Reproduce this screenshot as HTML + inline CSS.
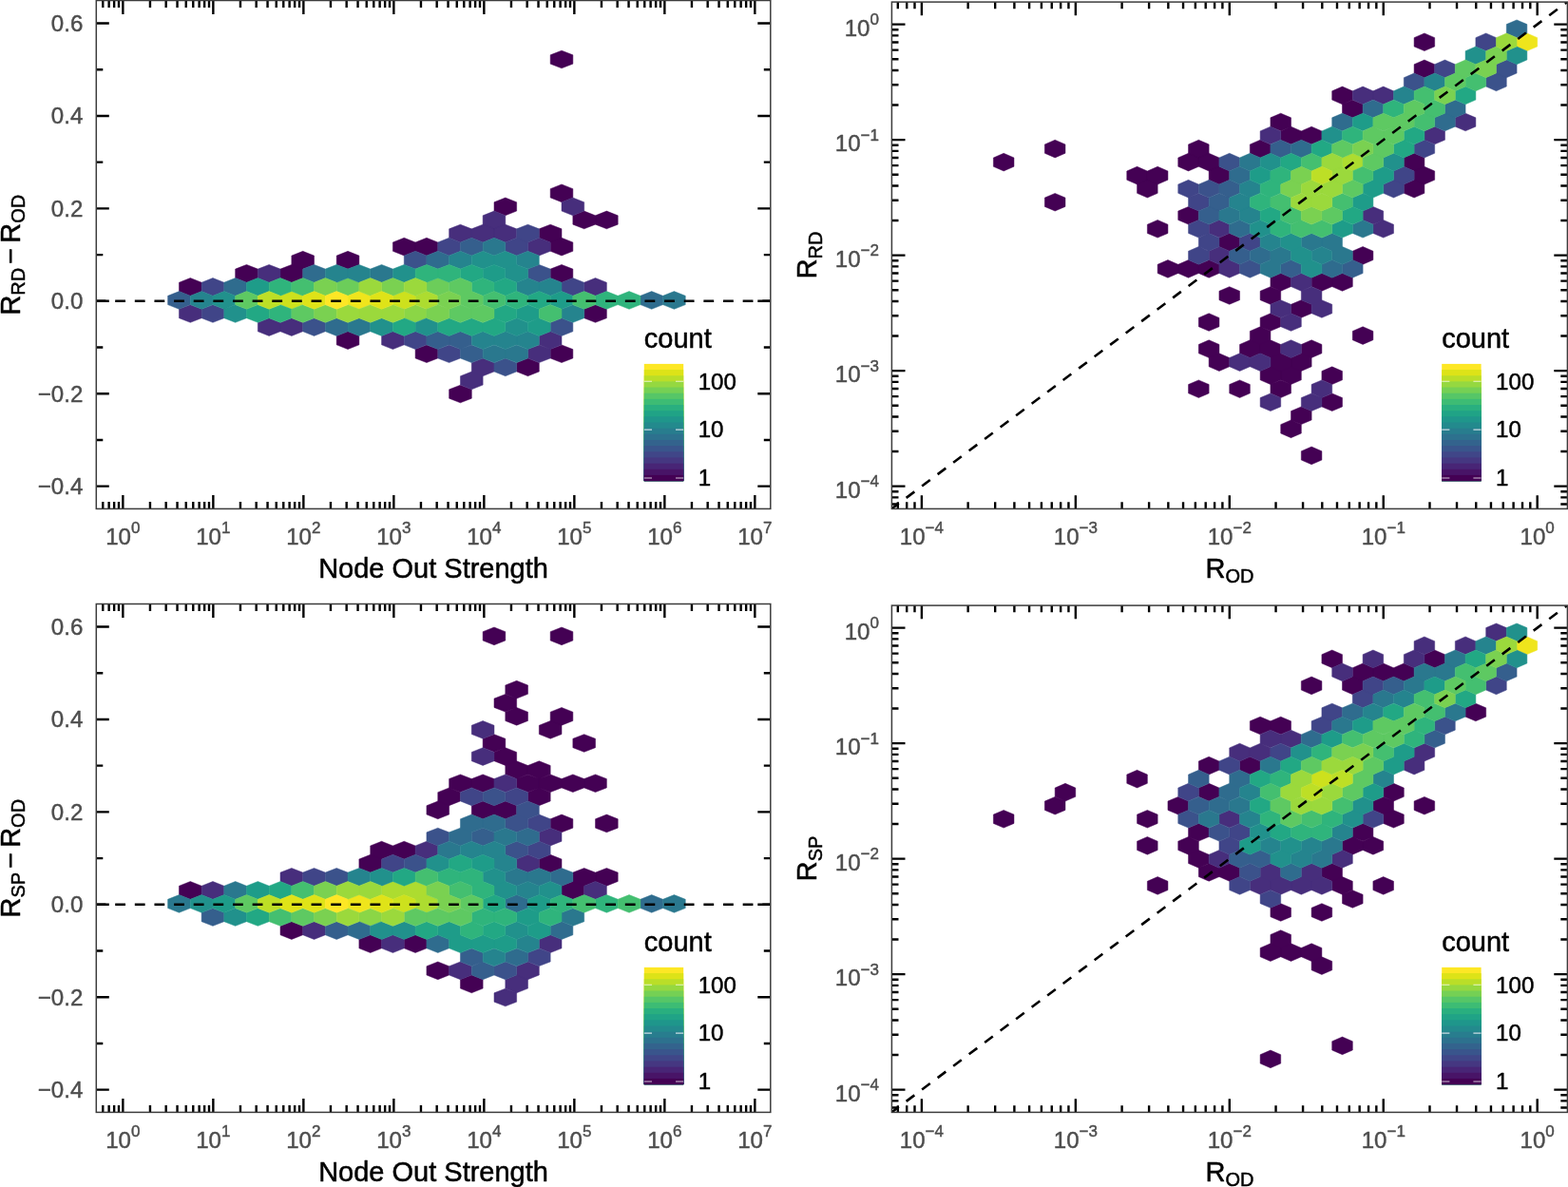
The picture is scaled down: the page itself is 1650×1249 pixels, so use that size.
<!DOCTYPE html>
<html lang="en">
<head>
<meta charset="utf-8">
<title>Hexbin comparison of R estimates</title>
<style>
html,body{margin:0;padding:0;background:#fff;}
body{width:1650px;height:1249px;overflow:hidden;}
svg{display:block;}
</style>
</head>
<body>
<svg width="1650" height="1249" viewBox="0 0 1650 1249" font-family='"Liberation Sans", sans-serif'>
<rect width="1650" height="1249" fill="#fff"/>
<g id="p1">
<clipPath id="cp1"><rect x="101.3" y="0.5" width="709.5" height="534.9"/></clipPath>
<g clip-path="url(#cp1)">
<path d="M366.05 292.52l11.84 4.67v9.35l-11.84 4.67l-11.84 -4.67v-9.35zM460.77 292.52l11.84 4.67v9.35l-11.84 4.67l-11.84 -4.67v-9.35z" fill="#6ccd5a" stroke="#6ccd5a" stroke-width="0.5"/>
<path d="M437.09 320.68l11.84 4.67v9.35l-11.84 4.67l-11.84 -4.67v-9.35z" fill="#8bd646" stroke="#8bd646" stroke-width="0.5"/>
<path d="M448.93 306.6l11.84 4.67v9.35l-11.84 4.67l-11.84 -4.67v-9.35z" fill="#addc30" stroke="#addc30" stroke-width="0.5"/>
<path d="M306.85 306.6l11.84 4.67v9.35l-11.84 4.67l-11.84 -4.67v-9.35zM425.25 306.6l11.84 4.67v9.35l-11.84 4.67l-11.84 -4.67v-9.35z" fill="#cde11d" stroke="#cde11d" stroke-width="0.5"/>
<path d="M377.89 306.6l11.84 4.67v9.35l-11.84 4.67l-11.84 -4.67v-9.35z" fill="#efe51c" stroke="#efe51c" stroke-width="0.5"/>
<path d="M591.01 53.16l11.84 4.67v9.35l-11.84 4.67l-11.84 -4.67v-9.35zM591.01 193.96l11.84 4.67v9.35l-11.84 4.67l-11.84 -4.67v-9.35zM531.81 208.04l11.84 4.67v9.35l-11.84 4.67l-11.84 -4.67v-9.35zM614.69 222.12l11.84 4.67v9.35l-11.84 4.67l-11.84 -4.67v-9.35zM638.37 222.12l11.84 4.67v9.35l-11.84 4.67l-11.84 -4.67v-9.35zM579.17 236.2l11.84 4.67v9.35l-11.84 4.67l-11.84 -4.67v-9.35zM425.25 250.28l11.84 4.67v9.35l-11.84 4.67l-11.84 -4.67v-9.35zM448.93 250.28l11.84 4.67v9.35l-11.84 4.67l-11.84 -4.67v-9.35zM591.01 250.28l11.84 4.67v9.35l-11.84 4.67l-11.84 -4.67v-9.35zM318.69 264.36l11.84 4.67v9.35l-11.84 4.67l-11.84 -4.67v-9.35zM366.05 264.36l11.84 4.67v9.35l-11.84 4.67l-11.84 -4.67v-9.35zM259.49 278.44l11.84 4.67v9.35l-11.84 4.67l-11.84 -4.67v-9.35zM306.85 278.44l11.84 4.67v9.35l-11.84 4.67l-11.84 -4.67v-9.35zM591.01 278.44l11.84 4.67v9.35l-11.84 4.67l-11.84 -4.67v-9.35zM200.29 292.52l11.84 4.67v9.35l-11.84 4.67l-11.84 -4.67v-9.35zM626.53 320.68l11.84 4.67v9.35l-11.84 4.67l-11.84 -4.67v-9.35zM366.05 348.84l11.84 4.67v9.35l-11.84 4.67l-11.84 -4.67v-9.35zM448.93 362.92l11.84 4.67v9.35l-11.84 4.67l-11.84 -4.67v-9.35zM591.01 362.92l11.84 4.67v9.35l-11.84 4.67l-11.84 -4.67v-9.35zM555.49 377l11.84 4.67v9.35l-11.84 4.67l-11.84 -4.67v-9.35zM484.45 405.16l11.84 4.67v9.35l-11.84 4.67l-11.84 -4.67v-9.35z" fill="#440154" stroke="#440154" stroke-width="0.5"/>
<path d="M602.85 208.04l11.84 4.67v9.35l-11.84 4.67l-11.84 -4.67v-9.35zM519.97 222.12l11.84 4.67v9.35l-11.84 4.67l-11.84 -4.67v-9.35zM484.45 236.2l11.84 4.67v9.35l-11.84 4.67l-11.84 -4.67v-9.35zM508.13 236.2l11.84 4.67v9.35l-11.84 4.67l-11.84 -4.67v-9.35zM531.81 236.2l11.84 4.67v9.35l-11.84 4.67l-11.84 -4.67v-9.35zM567.33 250.28l11.84 4.67v9.35l-11.84 4.67l-11.84 -4.67v-9.35zM283.17 278.44l11.84 4.67v9.35l-11.84 4.67l-11.84 -4.67v-9.35zM626.53 292.52l11.84 4.67v9.35l-11.84 4.67l-11.84 -4.67v-9.35zM200.29 320.68l11.84 4.67v9.35l-11.84 4.67l-11.84 -4.67v-9.35zM283.17 334.76l11.84 4.67v9.35l-11.84 4.67l-11.84 -4.67v-9.35zM306.85 334.76l11.84 4.67v9.35l-11.84 4.67l-11.84 -4.67v-9.35zM413.41 348.84l11.84 4.67v9.35l-11.84 4.67l-11.84 -4.67v-9.35zM579.17 348.84l11.84 4.67v9.35l-11.84 4.67l-11.84 -4.67v-9.35zM567.33 362.92l11.84 4.67v9.35l-11.84 4.67l-11.84 -4.67v-9.35zM508.13 377l11.84 4.67v9.35l-11.84 4.67l-11.84 -4.67v-9.35zM496.29 391.08l11.84 4.67v9.35l-11.84 4.67l-11.84 -4.67v-9.35z" fill="#472e7c" stroke="#472e7c" stroke-width="0.5"/>
<path d="M555.49 236.2l11.84 4.67v9.35l-11.84 4.67l-11.84 -4.67v-9.35zM472.61 250.28l11.84 4.67v9.35l-11.84 4.67l-11.84 -4.67v-9.35zM543.65 250.28l11.84 4.67v9.35l-11.84 4.67l-11.84 -4.67v-9.35zM223.97 292.52l11.84 4.67v9.35l-11.84 4.67l-11.84 -4.67v-9.35zM602.85 292.52l11.84 4.67v9.35l-11.84 4.67l-11.84 -4.67v-9.35zM223.97 320.68l11.84 4.67v9.35l-11.84 4.67l-11.84 -4.67v-9.35zM437.09 348.84l11.84 4.67v9.35l-11.84 4.67l-11.84 -4.67v-9.35zM472.61 362.92l11.84 4.67v9.35l-11.84 4.67l-11.84 -4.67v-9.35z" fill="#404588" stroke="#404588" stroke-width="0.5"/>
<path d="M437.09 264.36l11.84 4.67v9.35l-11.84 4.67l-11.84 -4.67v-9.35zM567.33 278.44l11.84 4.67v9.35l-11.84 4.67l-11.84 -4.67v-9.35zM330.53 334.76l11.84 4.67v9.35l-11.84 4.67l-11.84 -4.67v-9.35zM591.01 334.76l11.84 4.67v9.35l-11.84 4.67l-11.84 -4.67v-9.35zM531.81 377l11.84 4.67v9.35l-11.84 4.67l-11.84 -4.67v-9.35z" fill="#3b528b" stroke="#3b528b" stroke-width="0.5"/>
<path d="M496.29 250.28l11.84 4.67v9.35l-11.84 4.67l-11.84 -4.67v-9.35zM188.45 306.6l11.84 4.67v9.35l-11.84 4.67l-11.84 -4.67v-9.35zM460.77 348.84l11.84 4.67v9.35l-11.84 4.67l-11.84 -4.67v-9.35zM484.45 348.84l11.84 4.67v9.35l-11.84 4.67l-11.84 -4.67v-9.35zM496.29 362.92l11.84 4.67v9.35l-11.84 4.67l-11.84 -4.67v-9.35z" fill="#355f8d" stroke="#355f8d" stroke-width="0.5"/>
<path d="M460.77 264.36l11.84 4.67v9.35l-11.84 4.67l-11.84 -4.67v-9.35zM330.53 278.44l11.84 4.67v9.35l-11.84 4.67l-11.84 -4.67v-9.35zM247.65 292.52l11.84 4.67v9.35l-11.84 4.67l-11.84 -4.67v-9.35zM685.73 306.6l11.84 4.67v9.35l-11.84 4.67l-11.84 -4.67v-9.35zM354.21 334.76l11.84 4.67v9.35l-11.84 4.67l-11.84 -4.67v-9.35z" fill="#2f6c8e" stroke="#2f6c8e" stroke-width="0.5"/>
<path d="M519.97 250.28l11.84 4.67v9.35l-11.84 4.67l-11.84 -4.67v-9.35zM401.57 278.44l11.84 4.67v9.35l-11.84 4.67l-11.84 -4.67v-9.35zM709.41 306.6l11.84 4.67v9.35l-11.84 4.67l-11.84 -4.67v-9.35zM377.89 334.76l11.84 4.67v9.35l-11.84 4.67l-11.84 -4.67v-9.35zM519.97 362.92l11.84 4.67v9.35l-11.84 4.67l-11.84 -4.67v-9.35zM543.65 362.92l11.84 4.67v9.35l-11.84 4.67l-11.84 -4.67v-9.35z" fill="#2a788e" stroke="#2a788e" stroke-width="0.5"/>
<path d="M484.45 264.36l11.84 4.67v9.35l-11.84 4.67l-11.84 -4.67v-9.35zM555.49 264.36l11.84 4.67v9.35l-11.84 4.67l-11.84 -4.67v-9.35zM354.21 278.44l11.84 4.67v9.35l-11.84 4.67l-11.84 -4.67v-9.35zM377.89 278.44l11.84 4.67v9.35l-11.84 4.67l-11.84 -4.67v-9.35zM555.49 292.52l11.84 4.67v9.35l-11.84 4.67l-11.84 -4.67v-9.35zM579.17 292.52l11.84 4.67v9.35l-11.84 4.67l-11.84 -4.67v-9.35zM212.13 306.6l11.84 4.67v9.35l-11.84 4.67l-11.84 -4.67v-9.35zM602.85 320.68l11.84 4.67v9.35l-11.84 4.67l-11.84 -4.67v-9.35zM508.13 348.84l11.84 4.67v9.35l-11.84 4.67l-11.84 -4.67v-9.35zM531.81 348.84l11.84 4.67v9.35l-11.84 4.67l-11.84 -4.67v-9.35zM555.49 348.84l11.84 4.67v9.35l-11.84 4.67l-11.84 -4.67v-9.35z" fill="#25848e" stroke="#25848e" stroke-width="0.5"/>
<path d="M508.13 264.36l11.84 4.67v9.35l-11.84 4.67l-11.84 -4.67v-9.35zM531.81 264.36l11.84 4.67v9.35l-11.84 4.67l-11.84 -4.67v-9.35zM425.25 278.44l11.84 4.67v9.35l-11.84 4.67l-11.84 -4.67v-9.35zM543.65 278.44l11.84 4.67v9.35l-11.84 4.67l-11.84 -4.67v-9.35zM235.81 306.6l11.84 4.67v9.35l-11.84 4.67l-11.84 -4.67v-9.35zM247.65 320.68l11.84 4.67v9.35l-11.84 4.67l-11.84 -4.67v-9.35zM401.57 334.76l11.84 4.67v9.35l-11.84 4.67l-11.84 -4.67v-9.35zM448.93 334.76l11.84 4.67v9.35l-11.84 4.67l-11.84 -4.67v-9.35zM543.65 334.76l11.84 4.67v9.35l-11.84 4.67l-11.84 -4.67v-9.35z" fill="#21918c" stroke="#21918c" stroke-width="0.5"/>
<path d="M519.97 278.44l11.84 4.67v9.35l-11.84 4.67l-11.84 -4.67v-9.35zM271.33 292.52l11.84 4.67v9.35l-11.84 4.67l-11.84 -4.67v-9.35zM591.01 306.6l11.84 4.67v9.35l-11.84 4.67l-11.84 -4.67v-9.35zM555.49 320.68l11.84 4.67v9.35l-11.84 4.67l-11.84 -4.67v-9.35zM567.33 334.76l11.84 4.67v9.35l-11.84 4.67l-11.84 -4.67v-9.35z" fill="#1e9c89" stroke="#1e9c89" stroke-width="0.5"/>
<path d="M496.29 278.44l11.84 4.67v9.35l-11.84 4.67l-11.84 -4.67v-9.35zM531.81 292.52l11.84 4.67v9.35l-11.84 4.67l-11.84 -4.67v-9.35zM567.33 306.6l11.84 4.67v9.35l-11.84 4.67l-11.84 -4.67v-9.35zM271.33 320.68l11.84 4.67v9.35l-11.84 4.67l-11.84 -4.67v-9.35zM531.81 320.68l11.84 4.67v9.35l-11.84 4.67l-11.84 -4.67v-9.35zM425.25 334.76l11.84 4.67v9.35l-11.84 4.67l-11.84 -4.67v-9.35zM472.61 334.76l11.84 4.67v9.35l-11.84 4.67l-11.84 -4.67v-9.35zM496.29 334.76l11.84 4.67v9.35l-11.84 4.67l-11.84 -4.67v-9.35zM519.97 334.76l11.84 4.67v9.35l-11.84 4.67l-11.84 -4.67v-9.35z" fill="#22a884" stroke="#22a884" stroke-width="0.5"/>
<path d="M448.93 278.44l11.84 4.67v9.35l-11.84 4.67l-11.84 -4.67v-9.35zM472.61 278.44l11.84 4.67v9.35l-11.84 4.67l-11.84 -4.67v-9.35zM295.01 292.52l11.84 4.67v9.35l-11.84 4.67l-11.84 -4.67v-9.35zM508.13 292.52l11.84 4.67v9.35l-11.84 4.67l-11.84 -4.67v-9.35zM543.65 306.6l11.84 4.67v9.35l-11.84 4.67l-11.84 -4.67v-9.35zM638.37 306.6l11.84 4.67v9.35l-11.84 4.67l-11.84 -4.67v-9.35zM662.05 306.6l11.84 4.67v9.35l-11.84 4.67l-11.84 -4.67v-9.35zM295.01 320.68l11.84 4.67v9.35l-11.84 4.67l-11.84 -4.67v-9.35z" fill="#2fb47c" stroke="#2fb47c" stroke-width="0.5"/>
<path d="M318.69 292.52l11.84 4.67v9.35l-11.84 4.67l-11.84 -4.67v-9.35zM519.97 306.6l11.84 4.67v9.35l-11.84 4.67l-11.84 -4.67v-9.35zM614.69 306.6l11.84 4.67v9.35l-11.84 4.67l-11.84 -4.67v-9.35zM579.17 320.68l11.84 4.67v9.35l-11.84 4.67l-11.84 -4.67v-9.35z" fill="#44bf70" stroke="#44bf70" stroke-width="0.5"/>
<path d="M484.45 292.52l11.84 4.67v9.35l-11.84 4.67l-11.84 -4.67v-9.35zM259.49 306.6l11.84 4.67v9.35l-11.84 4.67l-11.84 -4.67v-9.35zM496.29 306.6l11.84 4.67v9.35l-11.84 4.67l-11.84 -4.67v-9.35zM318.69 320.68l11.84 4.67v9.35l-11.84 4.67l-11.84 -4.67v-9.35zM484.45 320.68l11.84 4.67v9.35l-11.84 4.67l-11.84 -4.67v-9.35zM508.13 320.68l11.84 4.67v9.35l-11.84 4.67l-11.84 -4.67v-9.35z" fill="#5ec962" stroke="#5ec962" stroke-width="0.5"/>
<path d="M342.37 292.52l11.84 4.67v9.35l-11.84 4.67l-11.84 -4.67v-9.35zM413.41 292.52l11.84 4.67v9.35l-11.84 4.67l-11.84 -4.67v-9.35zM472.61 306.6l11.84 4.67v9.35l-11.84 4.67l-11.84 -4.67v-9.35zM342.37 320.68l11.84 4.67v9.35l-11.84 4.67l-11.84 -4.67v-9.35zM460.77 320.68l11.84 4.67v9.35l-11.84 4.67l-11.84 -4.67v-9.35z" fill="#7ad151" stroke="#7ad151" stroke-width="0.5"/>
<path d="M389.73 292.52l11.84 4.67v9.35l-11.84 4.67l-11.84 -4.67v-9.35zM437.09 292.52l11.84 4.67v9.35l-11.84 4.67l-11.84 -4.67v-9.35zM366.05 320.68l11.84 4.67v9.35l-11.84 4.67l-11.84 -4.67v-9.35zM389.73 320.68l11.84 4.67v9.35l-11.84 4.67l-11.84 -4.67v-9.35zM413.41 320.68l11.84 4.67v9.35l-11.84 4.67l-11.84 -4.67v-9.35z" fill="#9bd93c" stroke="#9bd93c" stroke-width="0.5"/>
<path d="M283.17 306.6l11.84 4.67v9.35l-11.84 4.67l-11.84 -4.67v-9.35z" fill="#bddf26" stroke="#bddf26" stroke-width="0.5"/>
<path d="M330.53 306.6l11.84 4.67v9.35l-11.84 4.67l-11.84 -4.67v-9.35zM401.57 306.6l11.84 4.67v9.35l-11.84 4.67l-11.84 -4.67v-9.35z" fill="#dfe318" stroke="#dfe318" stroke-width="0.5"/>
<path d="M354.21 306.6l11.84 4.67v9.35l-11.84 4.67l-11.84 -4.67v-9.35z" fill="#fde725" stroke="#fde725" stroke-width="0.5"/>
<path d="M101.3 316.8H810.8" stroke="#000" stroke-width="2.6" stroke-dasharray="10.8 9.84" stroke-dashoffset="0.76" fill="none"/>
<path d="M101.3 511.66h13.5M810.8 511.66h-13.5M101.3 462.95h7M810.8 462.95h-7M101.3 414.23h13.5M810.8 414.23h-13.5M101.3 365.51h7M810.8 365.51h-7M101.3 316.8h13.5M810.8 316.8h-13.5M101.3 268.09h7M810.8 268.09h-7M101.3 219.37h13.5M810.8 219.37h-13.5M101.3 170.66h7M810.8 170.66h-7M101.3 121.94h13.5M810.8 121.94h-13.5M101.3 73.22h7M810.8 73.22h-7M101.3 24.51h13.5M810.8 24.51h-13.5M108.27 535.4v-7.4M108.27 0.5v7.4M114.63 535.4v-7.4M114.63 0.5v7.4M120.14 535.4v-7.4M120.14 0.5v7.4M125 535.4v-7.4M125 0.5v7.4M129.35 535.4v-14.4M129.35 0.5v14.4M157.95 535.4v-7.4M157.95 0.5v7.4M174.68 535.4v-7.4M174.68 0.5v7.4M186.55 535.4v-7.4M186.55 0.5v7.4M195.75 535.4v-7.4M195.75 0.5v7.4M203.27 535.4v-7.4M203.27 0.5v7.4M209.63 535.4v-7.4M209.63 0.5v7.4M215.14 535.4v-7.4M215.14 0.5v7.4M220 535.4v-7.4M220 0.5v7.4M224.35 535.4v-14.4M224.35 0.5v14.4M252.95 535.4v-7.4M252.95 0.5v7.4M269.68 535.4v-7.4M269.68 0.5v7.4M281.55 535.4v-7.4M281.55 0.5v7.4M290.75 535.4v-7.4M290.75 0.5v7.4M298.27 535.4v-7.4M298.27 0.5v7.4M304.63 535.4v-7.4M304.63 0.5v7.4M310.14 535.4v-7.4M310.14 0.5v7.4M315 535.4v-7.4M315 0.5v7.4M319.35 535.4v-14.4M319.35 0.5v14.4M347.95 535.4v-7.4M347.95 0.5v7.4M364.68 535.4v-7.4M364.68 0.5v7.4M376.55 535.4v-7.4M376.55 0.5v7.4M385.75 535.4v-7.4M385.75 0.5v7.4M393.27 535.4v-7.4M393.27 0.5v7.4M399.63 535.4v-7.4M399.63 0.5v7.4M405.14 535.4v-7.4M405.14 0.5v7.4M410 535.4v-7.4M410 0.5v7.4M414.35 535.4v-14.4M414.35 0.5v14.4M442.95 535.4v-7.4M442.95 0.5v7.4M459.68 535.4v-7.4M459.68 0.5v7.4M471.55 535.4v-7.4M471.55 0.5v7.4M480.75 535.4v-7.4M480.75 0.5v7.4M488.27 535.4v-7.4M488.27 0.5v7.4M494.63 535.4v-7.4M494.63 0.5v7.4M500.14 535.4v-7.4M500.14 0.5v7.4M505 535.4v-7.4M505 0.5v7.4M509.35 535.4v-14.4M509.35 0.5v14.4M537.95 535.4v-7.4M537.95 0.5v7.4M554.68 535.4v-7.4M554.68 0.5v7.4M566.55 535.4v-7.4M566.55 0.5v7.4M575.75 535.4v-7.4M575.75 0.5v7.4M583.27 535.4v-7.4M583.27 0.5v7.4M589.63 535.4v-7.4M589.63 0.5v7.4M595.14 535.4v-7.4M595.14 0.5v7.4M600 535.4v-7.4M600 0.5v7.4M604.35 535.4v-14.4M604.35 0.5v14.4M632.95 535.4v-7.4M632.95 0.5v7.4M649.68 535.4v-7.4M649.68 0.5v7.4M661.55 535.4v-7.4M661.55 0.5v7.4M670.75 535.4v-7.4M670.75 0.5v7.4M678.27 535.4v-7.4M678.27 0.5v7.4M684.63 535.4v-7.4M684.63 0.5v7.4M690.14 535.4v-7.4M690.14 0.5v7.4M695 535.4v-7.4M695 0.5v7.4M699.35 535.4v-14.4M699.35 0.5v14.4M727.95 535.4v-7.4M727.95 0.5v7.4M744.68 535.4v-7.4M744.68 0.5v7.4M756.55 535.4v-7.4M756.55 0.5v7.4M765.75 535.4v-7.4M765.75 0.5v7.4M773.27 535.4v-7.4M773.27 0.5v7.4M779.63 535.4v-7.4M779.63 0.5v7.4M785.14 535.4v-7.4M785.14 0.5v7.4M790 535.4v-7.4M790 0.5v7.4M794.35 535.4v-14.4M794.35 0.5v14.4" stroke="#000" stroke-width="2.4" fill="none"/>
</g>
<rect x="101.3" y="0.5" width="709.5" height="534.9" fill="none" stroke="#3c3c3c" stroke-width="1.5"/>
<text x="87.3" y="32.81" text-anchor="end" font-size="24.1" fill="#4d4d4d" stroke="#4d4d4d" stroke-width="0.45" stroke-linejoin="round">0.6</text>
<text x="87.3" y="130.24" text-anchor="end" font-size="24.1" fill="#4d4d4d" stroke="#4d4d4d" stroke-width="0.45" stroke-linejoin="round">0.4</text>
<text x="87.3" y="227.67" text-anchor="end" font-size="24.1" fill="#4d4d4d" stroke="#4d4d4d" stroke-width="0.45" stroke-linejoin="round">0.2</text>
<text x="87.3" y="325.1" text-anchor="end" font-size="24.1" fill="#4d4d4d" stroke="#4d4d4d" stroke-width="0.45" stroke-linejoin="round">0.0</text>
<text x="87.3" y="422.53" text-anchor="end" font-size="24.1" fill="#4d4d4d" stroke="#4d4d4d" stroke-width="0.45" stroke-linejoin="round">−0.2</text>
<text x="87.3" y="519.96" text-anchor="end" font-size="24.1" fill="#4d4d4d" stroke="#4d4d4d" stroke-width="0.45" stroke-linejoin="round">−0.4</text>
<text x="129.35" y="572.5" text-anchor="middle" font-size="24.1" fill="#4d4d4d" stroke="#4d4d4d" stroke-width="0.45" stroke-linejoin="round">10<tspan font-size="17.0" dy="-11.4">0</tspan></text>
<text x="224.35" y="572.5" text-anchor="middle" font-size="24.1" fill="#4d4d4d" stroke="#4d4d4d" stroke-width="0.45" stroke-linejoin="round">10<tspan font-size="17.0" dy="-11.4">1</tspan></text>
<text x="319.35" y="572.5" text-anchor="middle" font-size="24.1" fill="#4d4d4d" stroke="#4d4d4d" stroke-width="0.45" stroke-linejoin="round">10<tspan font-size="17.0" dy="-11.4">2</tspan></text>
<text x="414.35" y="572.5" text-anchor="middle" font-size="24.1" fill="#4d4d4d" stroke="#4d4d4d" stroke-width="0.45" stroke-linejoin="round">10<tspan font-size="17.0" dy="-11.4">3</tspan></text>
<text x="509.35" y="572.5" text-anchor="middle" font-size="24.1" fill="#4d4d4d" stroke="#4d4d4d" stroke-width="0.45" stroke-linejoin="round">10<tspan font-size="17.0" dy="-11.4">4</tspan></text>
<text x="604.35" y="572.5" text-anchor="middle" font-size="24.1" fill="#4d4d4d" stroke="#4d4d4d" stroke-width="0.45" stroke-linejoin="round">10<tspan font-size="17.0" dy="-11.4">5</tspan></text>
<text x="699.35" y="572.5" text-anchor="middle" font-size="24.1" fill="#4d4d4d" stroke="#4d4d4d" stroke-width="0.45" stroke-linejoin="round">10<tspan font-size="17.0" dy="-11.4">6</tspan></text>
<text x="794.35" y="572.5" text-anchor="middle" font-size="24.1" fill="#4d4d4d" stroke="#4d4d4d" stroke-width="0.45" stroke-linejoin="round">10<tspan font-size="17.0" dy="-11.4">7</tspan></text>
<text x="456.05" y="607.8" text-anchor="middle" font-size="29.0" fill="#000" stroke="#000" stroke-width="0.5" stroke-linejoin="round">Node Out Strength</text>
<g transform="translate(21.2 268.2) rotate(-90)" fill="#000">
<text x="0" y="0" text-anchor="middle" font-size="29.0" stroke="#000" stroke-width="0.5" stroke-linejoin="round">R<tspan font-size="20.0" dy="5.2">RD</tspan><tspan dy="-5.2" dx="4">−</tspan><tspan dx="5.1">R</tspan><tspan font-size="20.0" dy="5.2">OD</tspan></text>
</g>
<rect x="677.8" y="382.9" width="41.4" height="123.2" fill="#fde725"/>
<rect x="677.8" y="389.06" width="41.4" height="117.04" fill="#dde318"/>
<rect x="677.8" y="395.22" width="41.4" height="110.88" fill="#bade28"/>
<rect x="677.8" y="401.38" width="41.4" height="104.72" fill="#95d840"/>
<rect x="677.8" y="407.54" width="41.4" height="98.56" fill="#75d054"/>
<rect x="677.8" y="413.7" width="41.4" height="92.4" fill="#56c667"/>
<rect x="677.8" y="419.86" width="41.4" height="86.24" fill="#3dbc74"/>
<rect x="677.8" y="426.02" width="41.4" height="80.08" fill="#29af7f"/>
<rect x="677.8" y="432.18" width="41.4" height="73.92" fill="#20a386"/>
<rect x="677.8" y="438.34" width="41.4" height="67.76" fill="#1f968b"/>
<rect x="677.8" y="444.5" width="41.4" height="61.6" fill="#238a8d"/>
<rect x="677.8" y="450.66" width="41.4" height="55.44" fill="#287d8e"/>
<rect x="677.8" y="456.82" width="41.4" height="49.28" fill="#2d718e"/>
<rect x="677.8" y="462.98" width="41.4" height="43.12" fill="#33638d"/>
<rect x="677.8" y="469.14" width="41.4" height="36.96" fill="#39558c"/>
<rect x="677.8" y="475.3" width="41.4" height="30.8" fill="#404688"/>
<rect x="677.8" y="481.46" width="41.4" height="24.64" fill="#453781"/>
<rect x="677.8" y="487.62" width="41.4" height="18.48" fill="#482576"/>
<rect x="677.8" y="493.78" width="41.4" height="12.32" fill="#481467"/>
<rect x="677.8" y="499.94" width="41.4" height="6.16" fill="#440154"/>
<path d="M677.8 401.3h8.2M719.2 401.3h-8.2M677.8 452.1h8.2M719.2 452.1h-8.2M677.8 503h8.2M719.2 503h-8.2" stroke="#fff" stroke-opacity="0.75" stroke-width="1.1" fill="none"/>
<text x="734.7" y="409.6" font-size="24.1" fill="#000" stroke="#000" stroke-width="0.5" stroke-linejoin="round">100</text>
<text x="734.7" y="460.4" font-size="24.1" fill="#000" stroke="#000" stroke-width="0.5" stroke-linejoin="round">10</text>
<text x="734.7" y="511.3" font-size="24.1" fill="#000" stroke="#000" stroke-width="0.5" stroke-linejoin="round">1</text>
<text x="677.8" y="365.6" font-size="29.0" fill="#000" stroke="#000" stroke-width="0.5" stroke-linejoin="round">count</text>
</g>
<g id="p2">
<clipPath id="cp2"><rect x="938.4" y="2.1" width="711" height="533.3"/></clipPath>
<g clip-path="url(#cp2)">
<path d="M1423.31 161.3l10.8 4.66v9.32l-10.8 4.66l-10.8 -4.66v-9.32z" fill="#addc30" stroke="#addc30" stroke-width="0.5"/>
<path d="M1606.87 34.98l10.8 4.66v9.32l-10.8 4.66l-10.8 -4.66v-9.32z" fill="#efe51c" stroke="#efe51c" stroke-width="0.5"/>
<path d="M1498.89 34.98l10.8 4.66v9.32l-10.8 4.66l-10.8 -4.66v-9.32zM1498.89 63.05l10.8 4.66v9.32l-10.8 4.66l-10.8 -4.66v-9.32zM1412.52 91.12l10.8 4.66v9.32l-10.8 4.66l-10.8 -4.66v-9.32zM1423.31 105.16l10.8 4.66v9.32l-10.8 4.66l-10.8 -4.66v-9.32zM1347.73 119.19l10.8 4.66v9.32l-10.8 4.66l-10.8 -4.66v-9.32zM1358.53 133.23l10.8 4.66v9.32l-10.8 4.66l-10.8 -4.66v-9.32zM1380.12 133.23l10.8 4.66v9.32l-10.8 4.66l-10.8 -4.66v-9.32zM1110.19 147.26l10.8 4.66v9.32l-10.8 4.66l-10.8 -4.66v-9.32zM1261.35 147.26l10.8 4.66v9.32l-10.8 4.66l-10.8 -4.66v-9.32zM1326.14 147.26l10.8 4.66v9.32l-10.8 4.66l-10.8 -4.66v-9.32zM1056.2 161.3l10.8 4.66v9.32l-10.8 4.66l-10.8 -4.66v-9.32zM1250.55 161.3l10.8 4.66v9.32l-10.8 4.66l-10.8 -4.66v-9.32zM1272.15 161.3l10.8 4.66v9.32l-10.8 4.66l-10.8 -4.66v-9.32zM1488.1 161.3l10.8 4.66v9.32l-10.8 4.66l-10.8 -4.66v-9.32zM1196.57 175.33l10.8 4.66v9.32l-10.8 4.66l-10.8 -4.66v-9.32zM1218.16 175.33l10.8 4.66v9.32l-10.8 4.66l-10.8 -4.66v-9.32zM1282.95 175.33l10.8 4.66v9.32l-10.8 4.66l-10.8 -4.66v-9.32zM1498.89 175.33l10.8 4.66v9.32l-10.8 4.66l-10.8 -4.66v-9.32zM1207.36 189.37l10.8 4.66v9.32l-10.8 4.66l-10.8 -4.66v-9.32zM1488.1 189.37l10.8 4.66v9.32l-10.8 4.66l-10.8 -4.66v-9.32zM1110.19 203.4l10.8 4.66v9.32l-10.8 4.66l-10.8 -4.66v-9.32zM1250.55 217.44l10.8 4.66v9.32l-10.8 4.66l-10.8 -4.66v-9.32zM1218.16 231.47l10.8 4.66v9.32l-10.8 4.66l-10.8 -4.66v-9.32zM1293.74 245.51l10.8 4.66v9.32l-10.8 4.66l-10.8 -4.66v-9.32zM1434.11 259.54l10.8 4.66v9.32l-10.8 4.66l-10.8 -4.66v-9.32zM1228.96 273.58l10.8 4.66v9.32l-10.8 4.66l-10.8 -4.66v-9.32zM1250.55 273.58l10.8 4.66v9.32l-10.8 4.66l-10.8 -4.66v-9.32zM1272.15 273.58l10.8 4.66v9.32l-10.8 4.66l-10.8 -4.66v-9.32zM1347.73 287.61l10.8 4.66v9.32l-10.8 4.66l-10.8 -4.66v-9.32zM1390.92 287.61l10.8 4.66v9.32l-10.8 4.66l-10.8 -4.66v-9.32zM1412.52 287.61l10.8 4.66v9.32l-10.8 4.66l-10.8 -4.66v-9.32zM1293.74 301.65l10.8 4.66v9.32l-10.8 4.66l-10.8 -4.66v-9.32zM1336.93 301.65l10.8 4.66v9.32l-10.8 4.66l-10.8 -4.66v-9.32zM1369.33 315.68l10.8 4.66v9.32l-10.8 4.66l-10.8 -4.66v-9.32zM1272.15 329.72l10.8 4.66v9.32l-10.8 4.66l-10.8 -4.66v-9.32zM1336.93 329.72l10.8 4.66v9.32l-10.8 4.66l-10.8 -4.66v-9.32zM1326.14 343.75l10.8 4.66v9.32l-10.8 4.66l-10.8 -4.66v-9.32zM1434.11 343.75l10.8 4.66v9.32l-10.8 4.66l-10.8 -4.66v-9.32zM1272.15 357.79l10.8 4.66v9.32l-10.8 4.66l-10.8 -4.66v-9.32zM1315.34 357.79l10.8 4.66v9.32l-10.8 4.66l-10.8 -4.66v-9.32zM1336.93 357.79l10.8 4.66v9.32l-10.8 4.66l-10.8 -4.66v-9.32zM1380.12 357.79l10.8 4.66v9.32l-10.8 4.66l-10.8 -4.66v-9.32zM1282.95 371.82l10.8 4.66v9.32l-10.8 4.66l-10.8 -4.66v-9.32zM1347.73 371.82l10.8 4.66v9.32l-10.8 4.66l-10.8 -4.66v-9.32zM1369.33 371.82l10.8 4.66v9.32l-10.8 4.66l-10.8 -4.66v-9.32zM1336.93 385.86l10.8 4.66v9.32l-10.8 4.66l-10.8 -4.66v-9.32zM1358.53 385.86l10.8 4.66v9.32l-10.8 4.66l-10.8 -4.66v-9.32zM1401.72 385.86l10.8 4.66v9.32l-10.8 4.66l-10.8 -4.66v-9.32zM1261.35 399.89l10.8 4.66v9.32l-10.8 4.66l-10.8 -4.66v-9.32zM1304.54 399.89l10.8 4.66v9.32l-10.8 4.66l-10.8 -4.66v-9.32zM1347.73 399.89l10.8 4.66v9.32l-10.8 4.66l-10.8 -4.66v-9.32zM1401.72 413.93l10.8 4.66v9.32l-10.8 4.66l-10.8 -4.66v-9.32zM1369.33 427.96l10.8 4.66v9.32l-10.8 4.66l-10.8 -4.66v-9.32zM1358.53 442l10.8 4.66v9.32l-10.8 4.66l-10.8 -4.66v-9.32zM1380.12 470.07l10.8 4.66v9.32l-10.8 4.66l-10.8 -4.66v-9.32z" fill="#440154" stroke="#440154" stroke-width="0.5"/>
<path d="M1434.11 91.12l10.8 4.66v9.32l-10.8 4.66l-10.8 -4.66v-9.32zM1455.7 91.12l10.8 4.66v9.32l-10.8 4.66l-10.8 -4.66v-9.32zM1542.09 119.19l10.8 4.66v9.32l-10.8 4.66l-10.8 -4.66v-9.32zM1336.93 133.23l10.8 4.66v9.32l-10.8 4.66l-10.8 -4.66v-9.32zM1509.69 133.23l10.8 4.66v9.32l-10.8 4.66l-10.8 -4.66v-9.32zM1444.91 217.44l10.8 4.66v9.32l-10.8 4.66l-10.8 -4.66v-9.32zM1282.95 231.47l10.8 4.66v9.32l-10.8 4.66l-10.8 -4.66v-9.32zM1455.7 231.47l10.8 4.66v9.32l-10.8 4.66l-10.8 -4.66v-9.32zM1282.95 259.54l10.8 4.66v9.32l-10.8 4.66l-10.8 -4.66v-9.32zM1293.74 273.58l10.8 4.66v9.32l-10.8 4.66l-10.8 -4.66v-9.32zM1369.33 287.61l10.8 4.66v9.32l-10.8 4.66l-10.8 -4.66v-9.32zM1380.12 301.65l10.8 4.66v9.32l-10.8 4.66l-10.8 -4.66v-9.32zM1347.73 315.68l10.8 4.66v9.32l-10.8 4.66l-10.8 -4.66v-9.32zM1390.92 315.68l10.8 4.66v9.32l-10.8 4.66l-10.8 -4.66v-9.32zM1358.53 329.72l10.8 4.66v9.32l-10.8 4.66l-10.8 -4.66v-9.32zM1358.53 357.79l10.8 4.66v9.32l-10.8 4.66l-10.8 -4.66v-9.32zM1304.54 371.82l10.8 4.66v9.32l-10.8 4.66l-10.8 -4.66v-9.32zM1326.14 371.82l10.8 4.66v9.32l-10.8 4.66l-10.8 -4.66v-9.32zM1390.92 399.89l10.8 4.66v9.32l-10.8 4.66l-10.8 -4.66v-9.32zM1336.93 413.93l10.8 4.66v9.32l-10.8 4.66l-10.8 -4.66v-9.32zM1380.12 413.93l10.8 4.66v9.32l-10.8 4.66l-10.8 -4.66v-9.32z" fill="#472e7c" stroke="#472e7c" stroke-width="0.5"/>
<path d="M1563.68 34.98l10.8 4.66v9.32l-10.8 4.66l-10.8 -4.66v-9.32zM1520.49 63.05l10.8 4.66v9.32l-10.8 4.66l-10.8 -4.66v-9.32zM1498.89 147.26l10.8 4.66v9.32l-10.8 4.66l-10.8 -4.66v-9.32zM1477.3 175.33l10.8 4.66v9.32l-10.8 4.66l-10.8 -4.66v-9.32zM1250.55 189.37l10.8 4.66v9.32l-10.8 4.66l-10.8 -4.66v-9.32zM1466.5 189.37l10.8 4.66v9.32l-10.8 4.66l-10.8 -4.66v-9.32zM1261.35 203.4l10.8 4.66v9.32l-10.8 4.66l-10.8 -4.66v-9.32zM1261.35 231.47l10.8 4.66v9.32l-10.8 4.66l-10.8 -4.66v-9.32zM1272.15 245.51l10.8 4.66v9.32l-10.8 4.66l-10.8 -4.66v-9.32zM1315.34 245.51l10.8 4.66v9.32l-10.8 4.66l-10.8 -4.66v-9.32zM1261.35 259.54l10.8 4.66v9.32l-10.8 4.66l-10.8 -4.66v-9.32z" fill="#404588" stroke="#404588" stroke-width="0.5"/>
<path d="M1585.28 63.05l10.8 4.66v9.32l-10.8 4.66l-10.8 -4.66v-9.32zM1488.1 77.09l10.8 4.66v9.32l-10.8 4.66l-10.8 -4.66v-9.32zM1574.48 77.09l10.8 4.66v9.32l-10.8 4.66l-10.8 -4.66v-9.32zM1293.74 161.3l10.8 4.66v9.32l-10.8 4.66l-10.8 -4.66v-9.32zM1272.15 189.37l10.8 4.66v9.32l-10.8 4.66l-10.8 -4.66v-9.32zM1315.34 273.58l10.8 4.66v9.32l-10.8 4.66l-10.8 -4.66v-9.32z" fill="#3b528b" stroke="#3b528b" stroke-width="0.5"/>
<path d="M1347.73 147.26l10.8 4.66v9.32l-10.8 4.66l-10.8 -4.66v-9.32zM1293.74 189.37l10.8 4.66v9.32l-10.8 4.66l-10.8 -4.66v-9.32zM1282.95 203.4l10.8 4.66v9.32l-10.8 4.66l-10.8 -4.66v-9.32zM1272.15 217.44l10.8 4.66v9.32l-10.8 4.66l-10.8 -4.66v-9.32zM1304.54 259.54l10.8 4.66v9.32l-10.8 4.66l-10.8 -4.66v-9.32zM1358.53 273.58l10.8 4.66v9.32l-10.8 4.66l-10.8 -4.66v-9.32zM1423.31 273.58l10.8 4.66v9.32l-10.8 4.66l-10.8 -4.66v-9.32z" fill="#355f8d" stroke="#355f8d" stroke-width="0.5"/>
<path d="M1596.07 20.95l10.8 4.66v9.32l-10.8 4.66l-10.8 -4.66v-9.32zM1444.91 105.16l10.8 4.66v9.32l-10.8 4.66l-10.8 -4.66v-9.32zM1531.29 105.16l10.8 4.66v9.32l-10.8 4.66l-10.8 -4.66v-9.32zM1412.52 119.19l10.8 4.66v9.32l-10.8 4.66l-10.8 -4.66v-9.32zM1520.49 119.19l10.8 4.66v9.32l-10.8 4.66l-10.8 -4.66v-9.32zM1369.33 147.26l10.8 4.66v9.32l-10.8 4.66l-10.8 -4.66v-9.32zM1304.54 175.33l10.8 4.66v9.32l-10.8 4.66l-10.8 -4.66v-9.32zM1304.54 231.47l10.8 4.66v9.32l-10.8 4.66l-10.8 -4.66v-9.32zM1326.14 259.54l10.8 4.66v9.32l-10.8 4.66l-10.8 -4.66v-9.32zM1401.72 273.58l10.8 4.66v9.32l-10.8 4.66l-10.8 -4.66v-9.32z" fill="#2f6c8e" stroke="#2f6c8e" stroke-width="0.5"/>
<path d="M1315.34 161.3l10.8 4.66v9.32l-10.8 4.66l-10.8 -4.66v-9.32zM1293.74 217.44l10.8 4.66v9.32l-10.8 4.66l-10.8 -4.66v-9.32zM1434.11 231.47l10.8 4.66v9.32l-10.8 4.66l-10.8 -4.66v-9.32zM1380.12 245.51l10.8 4.66v9.32l-10.8 4.66l-10.8 -4.66v-9.32zM1401.72 245.51l10.8 4.66v9.32l-10.8 4.66l-10.8 -4.66v-9.32zM1347.73 259.54l10.8 4.66v9.32l-10.8 4.66l-10.8 -4.66v-9.32zM1412.52 259.54l10.8 4.66v9.32l-10.8 4.66l-10.8 -4.66v-9.32zM1336.93 273.58l10.8 4.66v9.32l-10.8 4.66l-10.8 -4.66v-9.32z" fill="#2a788e" stroke="#2a788e" stroke-width="0.5"/>
<path d="M1509.69 77.09l10.8 4.66v9.32l-10.8 4.66l-10.8 -4.66v-9.32zM1477.3 91.12l10.8 4.66v9.32l-10.8 4.66l-10.8 -4.66v-9.32zM1315.34 189.37l10.8 4.66v9.32l-10.8 4.66l-10.8 -4.66v-9.32zM1304.54 203.4l10.8 4.66v9.32l-10.8 4.66l-10.8 -4.66v-9.32zM1315.34 217.44l10.8 4.66v9.32l-10.8 4.66l-10.8 -4.66v-9.32zM1336.93 245.51l10.8 4.66v9.32l-10.8 4.66l-10.8 -4.66v-9.32zM1390.92 259.54l10.8 4.66v9.32l-10.8 4.66l-10.8 -4.66v-9.32z" fill="#25848e" stroke="#25848e" stroke-width="0.5"/>
<path d="M1552.88 49.02l10.8 4.66v9.32l-10.8 4.66l-10.8 -4.66v-9.32zM1596.07 49.02l10.8 4.66v9.32l-10.8 4.66l-10.8 -4.66v-9.32zM1401.72 133.23l10.8 4.66v9.32l-10.8 4.66l-10.8 -4.66v-9.32zM1336.93 161.3l10.8 4.66v9.32l-10.8 4.66l-10.8 -4.66v-9.32zM1466.5 161.3l10.8 4.66v9.32l-10.8 4.66l-10.8 -4.66v-9.32zM1326.14 231.47l10.8 4.66v9.32l-10.8 4.66l-10.8 -4.66v-9.32zM1358.53 245.51l10.8 4.66v9.32l-10.8 4.66l-10.8 -4.66v-9.32zM1369.33 259.54l10.8 4.66v9.32l-10.8 4.66l-10.8 -4.66v-9.32zM1380.12 273.58l10.8 4.66v9.32l-10.8 4.66l-10.8 -4.66v-9.32z" fill="#21918c" stroke="#21918c" stroke-width="0.5"/>
<path d="M1434.11 119.19l10.8 4.66v9.32l-10.8 4.66l-10.8 -4.66v-9.32zM1326.14 175.33l10.8 4.66v9.32l-10.8 4.66l-10.8 -4.66v-9.32zM1455.7 175.33l10.8 4.66v9.32l-10.8 4.66l-10.8 -4.66v-9.32zM1444.91 189.37l10.8 4.66v9.32l-10.8 4.66l-10.8 -4.66v-9.32zM1434.11 203.4l10.8 4.66v9.32l-10.8 4.66l-10.8 -4.66v-9.32zM1412.52 231.47l10.8 4.66v9.32l-10.8 4.66l-10.8 -4.66v-9.32z" fill="#1e9c89" stroke="#1e9c89" stroke-width="0.5"/>
<path d="M1542.09 91.12l10.8 4.66v9.32l-10.8 4.66l-10.8 -4.66v-9.32zM1488.1 133.23l10.8 4.66v9.32l-10.8 4.66l-10.8 -4.66v-9.32zM1390.92 147.26l10.8 4.66v9.32l-10.8 4.66l-10.8 -4.66v-9.32zM1477.3 147.26l10.8 4.66v9.32l-10.8 4.66l-10.8 -4.66v-9.32zM1358.53 161.3l10.8 4.66v9.32l-10.8 4.66l-10.8 -4.66v-9.32zM1336.93 217.44l10.8 4.66v9.32l-10.8 4.66l-10.8 -4.66v-9.32zM1423.31 217.44l10.8 4.66v9.32l-10.8 4.66l-10.8 -4.66v-9.32z" fill="#22a884" stroke="#22a884" stroke-width="0.5"/>
<path d="M1466.5 105.16l10.8 4.66v9.32l-10.8 4.66l-10.8 -4.66v-9.32zM1423.31 133.23l10.8 4.66v9.32l-10.8 4.66l-10.8 -4.66v-9.32zM1347.73 175.33l10.8 4.66v9.32l-10.8 4.66l-10.8 -4.66v-9.32zM1336.93 189.37l10.8 4.66v9.32l-10.8 4.66l-10.8 -4.66v-9.32zM1326.14 203.4l10.8 4.66v9.32l-10.8 4.66l-10.8 -4.66v-9.32zM1347.73 231.47l10.8 4.66v9.32l-10.8 4.66l-10.8 -4.66v-9.32z" fill="#2fb47c" stroke="#2fb47c" stroke-width="0.5"/>
<path d="M1552.88 77.09l10.8 4.66v9.32l-10.8 4.66l-10.8 -4.66v-9.32zM1498.89 91.12l10.8 4.66v9.32l-10.8 4.66l-10.8 -4.66v-9.32zM1509.69 105.16l10.8 4.66v9.32l-10.8 4.66l-10.8 -4.66v-9.32zM1498.89 119.19l10.8 4.66v9.32l-10.8 4.66l-10.8 -4.66v-9.32zM1380.12 161.3l10.8 4.66v9.32l-10.8 4.66l-10.8 -4.66v-9.32zM1434.11 175.33l10.8 4.66v9.32l-10.8 4.66l-10.8 -4.66v-9.32zM1347.73 203.4l10.8 4.66v9.32l-10.8 4.66l-10.8 -4.66v-9.32zM1412.52 203.4l10.8 4.66v9.32l-10.8 4.66l-10.8 -4.66v-9.32zM1358.53 217.44l10.8 4.66v9.32l-10.8 4.66l-10.8 -4.66v-9.32zM1369.33 231.47l10.8 4.66v9.32l-10.8 4.66l-10.8 -4.66v-9.32zM1390.92 231.47l10.8 4.66v9.32l-10.8 4.66l-10.8 -4.66v-9.32z" fill="#44bf70" stroke="#44bf70" stroke-width="0.5"/>
<path d="M1542.09 63.05l10.8 4.66v9.32l-10.8 4.66l-10.8 -4.66v-9.32zM1531.29 77.09l10.8 4.66v9.32l-10.8 4.66l-10.8 -4.66v-9.32zM1488.1 105.16l10.8 4.66v9.32l-10.8 4.66l-10.8 -4.66v-9.32zM1455.7 119.19l10.8 4.66v9.32l-10.8 4.66l-10.8 -4.66v-9.32zM1477.3 119.19l10.8 4.66v9.32l-10.8 4.66l-10.8 -4.66v-9.32zM1444.91 133.23l10.8 4.66v9.32l-10.8 4.66l-10.8 -4.66v-9.32zM1466.5 133.23l10.8 4.66v9.32l-10.8 4.66l-10.8 -4.66v-9.32zM1412.52 147.26l10.8 4.66v9.32l-10.8 4.66l-10.8 -4.66v-9.32zM1455.7 147.26l10.8 4.66v9.32l-10.8 4.66l-10.8 -4.66v-9.32zM1444.91 161.3l10.8 4.66v9.32l-10.8 4.66l-10.8 -4.66v-9.32zM1423.31 189.37l10.8 4.66v9.32l-10.8 4.66l-10.8 -4.66v-9.32zM1401.72 217.44l10.8 4.66v9.32l-10.8 4.66l-10.8 -4.66v-9.32z" fill="#5ec962" stroke="#5ec962" stroke-width="0.5"/>
<path d="M1574.48 49.02l10.8 4.66v9.32l-10.8 4.66l-10.8 -4.66v-9.32zM1563.68 63.05l10.8 4.66v9.32l-10.8 4.66l-10.8 -4.66v-9.32zM1520.49 91.12l10.8 4.66v9.32l-10.8 4.66l-10.8 -4.66v-9.32zM1434.11 147.26l10.8 4.66v9.32l-10.8 4.66l-10.8 -4.66v-9.32zM1369.33 175.33l10.8 4.66v9.32l-10.8 4.66l-10.8 -4.66v-9.32zM1358.53 189.37l10.8 4.66v9.32l-10.8 4.66l-10.8 -4.66v-9.32zM1380.12 217.44l10.8 4.66v9.32l-10.8 4.66l-10.8 -4.66v-9.32z" fill="#7ad151" stroke="#7ad151" stroke-width="0.5"/>
<path d="M1585.28 34.98l10.8 4.66v9.32l-10.8 4.66l-10.8 -4.66v-9.32zM1401.72 161.3l10.8 4.66v9.32l-10.8 4.66l-10.8 -4.66v-9.32zM1412.52 175.33l10.8 4.66v9.32l-10.8 4.66l-10.8 -4.66v-9.32zM1380.12 189.37l10.8 4.66v9.32l-10.8 4.66l-10.8 -4.66v-9.32zM1401.72 189.37l10.8 4.66v9.32l-10.8 4.66l-10.8 -4.66v-9.32zM1369.33 203.4l10.8 4.66v9.32l-10.8 4.66l-10.8 -4.66v-9.32zM1390.92 203.4l10.8 4.66v9.32l-10.8 4.66l-10.8 -4.66v-9.32z" fill="#9bd93c" stroke="#9bd93c" stroke-width="0.5"/>
<path d="M1390.92 175.33l10.8 4.66v9.32l-10.8 4.66l-10.8 -4.66v-9.32z" fill="#bddf26" stroke="#bddf26" stroke-width="0.5"/>
<path d="M918.4 550.29L1669.4 -13.14" stroke="#000" stroke-width="2.6" stroke-dasharray="10.8 9.83" stroke-dashoffset="-2.8" fill="none"/>
<path d="M944.81 535.4v-7.1M944.81 2.1v7.1M938.4 530.47h7.1M1649.4 530.47h-7.1M954.21 535.4v-7.1M954.21 2.1v7.1M938.4 523.42h7.1M1649.4 523.42h-7.1M962.49 535.4v-7.1M962.49 2.1v7.1M938.4 517.21h7.1M1649.4 517.21h-7.1M969.9 535.4v-14.1M969.9 2.1v14.1M938.4 511.65h14.1M1649.4 511.65h-14.1M1018.65 535.4v-7.1M1018.65 2.1v7.1M938.4 475.07h7.1M1649.4 475.07h-7.1M1047.17 535.4v-7.1M1047.17 2.1v7.1M938.4 453.68h7.1M1649.4 453.68h-7.1M1067.4 535.4v-7.1M1067.4 2.1v7.1M938.4 438.5h7.1M1649.4 438.5h-7.1M1083.1 535.4v-7.1M1083.1 2.1v7.1M938.4 426.73h7.1M1649.4 426.73h-7.1M1095.92 535.4v-7.1M1095.92 2.1v7.1M938.4 417.1h7.1M1649.4 417.1h-7.1M1106.76 535.4v-7.1M1106.76 2.1v7.1M938.4 408.97h7.1M1649.4 408.97h-7.1M1116.16 535.4v-7.1M1116.16 2.1v7.1M938.4 401.92h7.1M1649.4 401.92h-7.1M1124.44 535.4v-7.1M1124.44 2.1v7.1M938.4 395.71h7.1M1649.4 395.71h-7.1M1131.85 535.4v-14.1M1131.85 2.1v14.1M938.4 390.15h14.1M1649.4 390.15h-14.1M1180.6 535.4v-7.1M1180.6 2.1v7.1M938.4 353.57h7.1M1649.4 353.57h-7.1M1209.12 535.4v-7.1M1209.12 2.1v7.1M938.4 332.18h7.1M1649.4 332.18h-7.1M1229.35 535.4v-7.1M1229.35 2.1v7.1M938.4 317h7.1M1649.4 317h-7.1M1245.05 535.4v-7.1M1245.05 2.1v7.1M938.4 305.23h7.1M1649.4 305.23h-7.1M1257.87 535.4v-7.1M1257.87 2.1v7.1M938.4 295.6h7.1M1649.4 295.6h-7.1M1268.71 535.4v-7.1M1268.71 2.1v7.1M938.4 287.47h7.1M1649.4 287.47h-7.1M1278.11 535.4v-7.1M1278.11 2.1v7.1M938.4 280.42h7.1M1649.4 280.42h-7.1M1286.39 535.4v-7.1M1286.39 2.1v7.1M938.4 274.21h7.1M1649.4 274.21h-7.1M1293.8 535.4v-14.1M1293.8 2.1v14.1M938.4 268.65h14.1M1649.4 268.65h-14.1M1342.55 535.4v-7.1M1342.55 2.1v7.1M938.4 232.07h7.1M1649.4 232.07h-7.1M1371.07 535.4v-7.1M1371.07 2.1v7.1M938.4 210.68h7.1M1649.4 210.68h-7.1M1391.3 535.4v-7.1M1391.3 2.1v7.1M938.4 195.5h7.1M1649.4 195.5h-7.1M1407 535.4v-7.1M1407 2.1v7.1M938.4 183.73h7.1M1649.4 183.73h-7.1M1419.82 535.4v-7.1M1419.82 2.1v7.1M938.4 174.1h7.1M1649.4 174.1h-7.1M1430.66 535.4v-7.1M1430.66 2.1v7.1M938.4 165.97h7.1M1649.4 165.97h-7.1M1440.06 535.4v-7.1M1440.06 2.1v7.1M938.4 158.92h7.1M1649.4 158.92h-7.1M1448.34 535.4v-7.1M1448.34 2.1v7.1M938.4 152.71h7.1M1649.4 152.71h-7.1M1455.75 535.4v-14.1M1455.75 2.1v14.1M938.4 147.15h14.1M1649.4 147.15h-14.1M1504.5 535.4v-7.1M1504.5 2.1v7.1M938.4 110.57h7.1M1649.4 110.57h-7.1M1533.02 535.4v-7.1M1533.02 2.1v7.1M938.4 89.18h7.1M1649.4 89.18h-7.1M1553.25 535.4v-7.1M1553.25 2.1v7.1M938.4 74h7.1M1649.4 74h-7.1M1568.95 535.4v-7.1M1568.95 2.1v7.1M938.4 62.23h7.1M1649.4 62.23h-7.1M1581.77 535.4v-7.1M1581.77 2.1v7.1M938.4 52.6h7.1M1649.4 52.6h-7.1M1592.61 535.4v-7.1M1592.61 2.1v7.1M938.4 44.47h7.1M1649.4 44.47h-7.1M1602.01 535.4v-7.1M1602.01 2.1v7.1M938.4 37.42h7.1M1649.4 37.42h-7.1M1610.29 535.4v-7.1M1610.29 2.1v7.1M938.4 31.21h7.1M1649.4 31.21h-7.1M1617.7 535.4v-14.1M1617.7 2.1v14.1M938.4 25.65h14.1M1649.4 25.65h-14.1" stroke="#000" stroke-width="2.4" fill="none"/>
</g>
<rect x="938.4" y="2.1" width="711" height="533.3" fill="none" stroke="#3c3c3c" stroke-width="1.5"/>
<text x="969.9" y="572.5" text-anchor="middle" font-size="24.1" fill="#4d4d4d" stroke="#4d4d4d" stroke-width="0.45" stroke-linejoin="round">10<tspan font-size="17.0" dy="-11.4">−4</tspan></text>
<text x="925" y="523.65" text-anchor="end" font-size="24.1" fill="#4d4d4d" stroke="#4d4d4d" stroke-width="0.45" stroke-linejoin="round">10<tspan font-size="17.0" dy="-11.4">−4</tspan></text>
<text x="1131.85" y="572.5" text-anchor="middle" font-size="24.1" fill="#4d4d4d" stroke="#4d4d4d" stroke-width="0.45" stroke-linejoin="round">10<tspan font-size="17.0" dy="-11.4">−3</tspan></text>
<text x="925" y="402.15" text-anchor="end" font-size="24.1" fill="#4d4d4d" stroke="#4d4d4d" stroke-width="0.45" stroke-linejoin="round">10<tspan font-size="17.0" dy="-11.4">−3</tspan></text>
<text x="1293.8" y="572.5" text-anchor="middle" font-size="24.1" fill="#4d4d4d" stroke="#4d4d4d" stroke-width="0.45" stroke-linejoin="round">10<tspan font-size="17.0" dy="-11.4">−2</tspan></text>
<text x="925" y="280.65" text-anchor="end" font-size="24.1" fill="#4d4d4d" stroke="#4d4d4d" stroke-width="0.45" stroke-linejoin="round">10<tspan font-size="17.0" dy="-11.4">−2</tspan></text>
<text x="1455.75" y="572.5" text-anchor="middle" font-size="24.1" fill="#4d4d4d" stroke="#4d4d4d" stroke-width="0.45" stroke-linejoin="round">10<tspan font-size="17.0" dy="-11.4">−1</tspan></text>
<text x="925" y="159.15" text-anchor="end" font-size="24.1" fill="#4d4d4d" stroke="#4d4d4d" stroke-width="0.45" stroke-linejoin="round">10<tspan font-size="17.0" dy="-11.4">−1</tspan></text>
<text x="1617.7" y="572.5" text-anchor="middle" font-size="24.1" fill="#4d4d4d" stroke="#4d4d4d" stroke-width="0.45" stroke-linejoin="round">10<tspan font-size="17.0" dy="-11.4">0</tspan></text>
<text x="925" y="37.65" text-anchor="end" font-size="24.1" fill="#4d4d4d" stroke="#4d4d4d" stroke-width="0.45" stroke-linejoin="round">10<tspan font-size="17.0" dy="-11.4">0</tspan></text>
<text x="1293.9" y="607.8" text-anchor="middle" font-size="29.0" fill="#000" stroke="#000" stroke-width="0.5" stroke-linejoin="round">R<tspan font-size="20.0" dy="5.2">OD</tspan></text>
<g transform="translate(859.4 268.45) rotate(-90)" fill="#000">
<text x="0" y="0" text-anchor="middle" font-size="29.0" stroke="#000" stroke-width="0.5" stroke-linejoin="round">R<tspan font-size="20.0" dy="5.2">RD</tspan></text>
</g>
<rect x="1517.2" y="382.9" width="41.4" height="123.2" fill="#fde725"/>
<rect x="1517.2" y="389.06" width="41.4" height="117.04" fill="#dde318"/>
<rect x="1517.2" y="395.22" width="41.4" height="110.88" fill="#bade28"/>
<rect x="1517.2" y="401.38" width="41.4" height="104.72" fill="#95d840"/>
<rect x="1517.2" y="407.54" width="41.4" height="98.56" fill="#75d054"/>
<rect x="1517.2" y="413.7" width="41.4" height="92.4" fill="#56c667"/>
<rect x="1517.2" y="419.86" width="41.4" height="86.24" fill="#3dbc74"/>
<rect x="1517.2" y="426.02" width="41.4" height="80.08" fill="#29af7f"/>
<rect x="1517.2" y="432.18" width="41.4" height="73.92" fill="#20a386"/>
<rect x="1517.2" y="438.34" width="41.4" height="67.76" fill="#1f968b"/>
<rect x="1517.2" y="444.5" width="41.4" height="61.6" fill="#238a8d"/>
<rect x="1517.2" y="450.66" width="41.4" height="55.44" fill="#287d8e"/>
<rect x="1517.2" y="456.82" width="41.4" height="49.28" fill="#2d718e"/>
<rect x="1517.2" y="462.98" width="41.4" height="43.12" fill="#33638d"/>
<rect x="1517.2" y="469.14" width="41.4" height="36.96" fill="#39558c"/>
<rect x="1517.2" y="475.3" width="41.4" height="30.8" fill="#404688"/>
<rect x="1517.2" y="481.46" width="41.4" height="24.64" fill="#453781"/>
<rect x="1517.2" y="487.62" width="41.4" height="18.48" fill="#482576"/>
<rect x="1517.2" y="493.78" width="41.4" height="12.32" fill="#481467"/>
<rect x="1517.2" y="499.94" width="41.4" height="6.16" fill="#440154"/>
<path d="M1517.2 401.3h8.2M1558.6 401.3h-8.2M1517.2 452.1h8.2M1558.6 452.1h-8.2M1517.2 503h8.2M1558.6 503h-8.2" stroke="#fff" stroke-opacity="0.75" stroke-width="1.1" fill="none"/>
<text x="1574.1" y="409.6" font-size="24.1" fill="#000" stroke="#000" stroke-width="0.5" stroke-linejoin="round">100</text>
<text x="1574.1" y="460.4" font-size="24.1" fill="#000" stroke="#000" stroke-width="0.5" stroke-linejoin="round">10</text>
<text x="1574.1" y="511.3" font-size="24.1" fill="#000" stroke="#000" stroke-width="0.5" stroke-linejoin="round">1</text>
<text x="1517.2" y="365.6" font-size="29.0" fill="#000" stroke="#000" stroke-width="0.5" stroke-linejoin="round">count</text>
</g>
<g id="p3">
<clipPath id="cp3"><rect x="101.3" y="635.5" width="709.5" height="534.9"/></clipPath>
<g clip-path="url(#cp3)">
<path d="M389.73 955.68l11.84 4.67v9.35l-11.84 4.67l-11.84 -4.67v-9.35z" fill="#8bd646" stroke="#8bd646" stroke-width="0.5"/>
<path d="M413.41 927.52l11.84 4.67v9.35l-11.84 4.67l-11.84 -4.67v-9.35zM437.09 927.52l11.84 4.67v9.35l-11.84 4.67l-11.84 -4.67v-9.35zM448.93 941.6l11.84 4.67v9.35l-11.84 4.67l-11.84 -4.67v-9.35z" fill="#addc30" stroke="#addc30" stroke-width="0.5"/>
<path d="M425.25 941.6l11.84 4.67v9.35l-11.84 4.67l-11.84 -4.67v-9.35z" fill="#cde11d" stroke="#cde11d" stroke-width="0.5"/>
<path d="M377.89 941.6l11.84 4.67v9.35l-11.84 4.67l-11.84 -4.67v-9.35z" fill="#efe51c" stroke="#efe51c" stroke-width="0.5"/>
<path d="M519.97 660l11.84 4.67v9.35l-11.84 4.67l-11.84 -4.67v-9.35zM591.01 660l11.84 4.67v9.35l-11.84 4.67l-11.84 -4.67v-9.35zM543.65 716.32l11.84 4.67v9.35l-11.84 4.67l-11.84 -4.67v-9.35zM531.81 730.4l11.84 4.67v9.35l-11.84 4.67l-11.84 -4.67v-9.35zM543.65 744.48l11.84 4.67v9.35l-11.84 4.67l-11.84 -4.67v-9.35zM591.01 744.48l11.84 4.67v9.35l-11.84 4.67l-11.84 -4.67v-9.35zM579.17 758.56l11.84 4.67v9.35l-11.84 4.67l-11.84 -4.67v-9.35zM519.97 772.64l11.84 4.67v9.35l-11.84 4.67l-11.84 -4.67v-9.35zM614.69 772.64l11.84 4.67v9.35l-11.84 4.67l-11.84 -4.67v-9.35zM531.81 786.72l11.84 4.67v9.35l-11.84 4.67l-11.84 -4.67v-9.35zM543.65 800.8l11.84 4.67v9.35l-11.84 4.67l-11.84 -4.67v-9.35zM567.33 800.8l11.84 4.67v9.35l-11.84 4.67l-11.84 -4.67v-9.35zM484.45 814.88l11.84 4.67v9.35l-11.84 4.67l-11.84 -4.67v-9.35zM508.13 814.88l11.84 4.67v9.35l-11.84 4.67l-11.84 -4.67v-9.35zM555.49 814.88l11.84 4.67v9.35l-11.84 4.67l-11.84 -4.67v-9.35zM579.17 814.88l11.84 4.67v9.35l-11.84 4.67l-11.84 -4.67v-9.35zM602.85 814.88l11.84 4.67v9.35l-11.84 4.67l-11.84 -4.67v-9.35zM626.53 814.88l11.84 4.67v9.35l-11.84 4.67l-11.84 -4.67v-9.35zM472.61 828.96l11.84 4.67v9.35l-11.84 4.67l-11.84 -4.67v-9.35zM567.33 828.96l11.84 4.67v9.35l-11.84 4.67l-11.84 -4.67v-9.35zM460.77 843.04l11.84 4.67v9.35l-11.84 4.67l-11.84 -4.67v-9.35zM508.13 843.04l11.84 4.67v9.35l-11.84 4.67l-11.84 -4.67v-9.35zM531.81 843.04l11.84 4.67v9.35l-11.84 4.67l-11.84 -4.67v-9.35zM591.01 857.12l11.84 4.67v9.35l-11.84 4.67l-11.84 -4.67v-9.35zM638.37 857.12l11.84 4.67v9.35l-11.84 4.67l-11.84 -4.67v-9.35zM401.57 885.28l11.84 4.67v9.35l-11.84 4.67l-11.84 -4.67v-9.35zM425.25 885.28l11.84 4.67v9.35l-11.84 4.67l-11.84 -4.67v-9.35zM389.73 899.36l11.84 4.67v9.35l-11.84 4.67l-11.84 -4.67v-9.35zM579.17 899.36l11.84 4.67v9.35l-11.84 4.67l-11.84 -4.67v-9.35zM614.69 913.44l11.84 4.67v9.35l-11.84 4.67l-11.84 -4.67v-9.35zM638.37 913.44l11.84 4.67v9.35l-11.84 4.67l-11.84 -4.67v-9.35zM200.29 927.52l11.84 4.67v9.35l-11.84 4.67l-11.84 -4.67v-9.35zM602.85 927.52l11.84 4.67v9.35l-11.84 4.67l-11.84 -4.67v-9.35zM306.85 969.76l11.84 4.67v9.35l-11.84 4.67l-11.84 -4.67v-9.35zM389.73 983.84l11.84 4.67v9.35l-11.84 4.67l-11.84 -4.67v-9.35zM437.09 983.84l11.84 4.67v9.35l-11.84 4.67l-11.84 -4.67v-9.35zM460.77 1012l11.84 4.67v9.35l-11.84 4.67l-11.84 -4.67v-9.35zM496.29 1026.08l11.84 4.67v9.35l-11.84 4.67l-11.84 -4.67v-9.35z" fill="#440154" stroke="#440154" stroke-width="0.5"/>
<path d="M508.13 758.56l11.84 4.67v9.35l-11.84 4.67l-11.84 -4.67v-9.35zM508.13 786.72l11.84 4.67v9.35l-11.84 4.67l-11.84 -4.67v-9.35zM531.81 814.88l11.84 4.67v9.35l-11.84 4.67l-11.84 -4.67v-9.35zM579.17 871.2l11.84 4.67v9.35l-11.84 4.67l-11.84 -4.67v-9.35zM448.93 885.28l11.84 4.67v9.35l-11.84 4.67l-11.84 -4.67v-9.35zM555.49 899.36l11.84 4.67v9.35l-11.84 4.67l-11.84 -4.67v-9.35zM306.85 913.44l11.84 4.67v9.35l-11.84 4.67l-11.84 -4.67v-9.35zM223.97 927.52l11.84 4.67v9.35l-11.84 4.67l-11.84 -4.67v-9.35zM626.53 927.52l11.84 4.67v9.35l-11.84 4.67l-11.84 -4.67v-9.35zM330.53 969.76l11.84 4.67v9.35l-11.84 4.67l-11.84 -4.67v-9.35zM413.41 983.84l11.84 4.67v9.35l-11.84 4.67l-11.84 -4.67v-9.35zM579.17 983.84l11.84 4.67v9.35l-11.84 4.67l-11.84 -4.67v-9.35zM484.45 1012l11.84 4.67v9.35l-11.84 4.67l-11.84 -4.67v-9.35zM555.49 1012l11.84 4.67v9.35l-11.84 4.67l-11.84 -4.67v-9.35zM543.65 1026.08l11.84 4.67v9.35l-11.84 4.67l-11.84 -4.67v-9.35zM531.81 1040.16l11.84 4.67v9.35l-11.84 4.67l-11.84 -4.67v-9.35z" fill="#472e7c" stroke="#472e7c" stroke-width="0.5"/>
<path d="M496.29 828.96l11.84 4.67v9.35l-11.84 4.67l-11.84 -4.67v-9.35zM543.65 828.96l11.84 4.67v9.35l-11.84 4.67l-11.84 -4.67v-9.35zM567.33 857.12l11.84 4.67v9.35l-11.84 4.67l-11.84 -4.67v-9.35zM567.33 885.28l11.84 4.67v9.35l-11.84 4.67l-11.84 -4.67v-9.35zM413.41 899.36l11.84 4.67v9.35l-11.84 4.67l-11.84 -4.67v-9.35zM330.53 913.44l11.84 4.67v9.35l-11.84 4.67l-11.84 -4.67v-9.35zM567.33 997.92l11.84 4.67v9.35l-11.84 4.67l-11.84 -4.67v-9.35z" fill="#404588" stroke="#404588" stroke-width="0.5"/>
<path d="M519.97 828.96l11.84 4.67v9.35l-11.84 4.67l-11.84 -4.67v-9.35zM555.49 843.04l11.84 4.67v9.35l-11.84 4.67l-11.84 -4.67v-9.35zM543.65 857.12l11.84 4.67v9.35l-11.84 4.67l-11.84 -4.67v-9.35zM460.77 871.2l11.84 4.67v9.35l-11.84 4.67l-11.84 -4.67v-9.35zM543.65 885.28l11.84 4.67v9.35l-11.84 4.67l-11.84 -4.67v-9.35zM437.09 899.36l11.84 4.67v9.35l-11.84 4.67l-11.84 -4.67v-9.35zM354.21 913.44l11.84 4.67v9.35l-11.84 4.67l-11.84 -4.67v-9.35zM531.81 1012l11.84 4.67v9.35l-11.84 4.67l-11.84 -4.67v-9.35z" fill="#3b528b" stroke="#3b528b" stroke-width="0.5"/>
<path d="M508.13 871.2l11.84 4.67v9.35l-11.84 4.67l-11.84 -4.67v-9.35zM223.97 955.68l11.84 4.67v9.35l-11.84 4.67l-11.84 -4.67v-9.35zM354.21 969.76l11.84 4.67v9.35l-11.84 4.67l-11.84 -4.67v-9.35zM496.29 997.92l11.84 4.67v9.35l-11.84 4.67l-11.84 -4.67v-9.35zM508.13 1012l11.84 4.67v9.35l-11.84 4.67l-11.84 -4.67v-9.35z" fill="#355f8d" stroke="#355f8d" stroke-width="0.5"/>
<path d="M496.29 857.12l11.84 4.67v9.35l-11.84 4.67l-11.84 -4.67v-9.35zM519.97 857.12l11.84 4.67v9.35l-11.84 4.67l-11.84 -4.67v-9.35zM484.45 871.2l11.84 4.67v9.35l-11.84 4.67l-11.84 -4.67v-9.35zM555.49 871.2l11.84 4.67v9.35l-11.84 4.67l-11.84 -4.67v-9.35zM591.01 913.44l11.84 4.67v9.35l-11.84 4.67l-11.84 -4.67v-9.35zM543.65 941.6l11.84 4.67v9.35l-11.84 4.67l-11.84 -4.67v-9.35zM685.73 941.6l11.84 4.67v9.35l-11.84 4.67l-11.84 -4.67v-9.35zM377.89 969.76l11.84 4.67v9.35l-11.84 4.67l-11.84 -4.67v-9.35zM591.01 969.76l11.84 4.67v9.35l-11.84 4.67l-11.84 -4.67v-9.35zM460.77 983.84l11.84 4.67v9.35l-11.84 4.67l-11.84 -4.67v-9.35zM543.65 997.92l11.84 4.67v9.35l-11.84 4.67l-11.84 -4.67v-9.35z" fill="#2f6c8e" stroke="#2f6c8e" stroke-width="0.5"/>
<path d="M531.81 871.2l11.84 4.67v9.35l-11.84 4.67l-11.84 -4.67v-9.35zM472.61 885.28l11.84 4.67v9.35l-11.84 4.67l-11.84 -4.67v-9.35zM543.65 913.44l11.84 4.67v9.35l-11.84 4.67l-11.84 -4.67v-9.35zM567.33 913.44l11.84 4.67v9.35l-11.84 4.67l-11.84 -4.67v-9.35zM247.65 927.52l11.84 4.67v9.35l-11.84 4.67l-11.84 -4.67v-9.35zM188.45 941.6l11.84 4.67v9.35l-11.84 4.67l-11.84 -4.67v-9.35zM709.41 941.6l11.84 4.67v9.35l-11.84 4.67l-11.84 -4.67v-9.35zM602.85 955.68l11.84 4.67v9.35l-11.84 4.67l-11.84 -4.67v-9.35z" fill="#2a788e" stroke="#2a788e" stroke-width="0.5"/>
<path d="M496.29 885.28l11.84 4.67v9.35l-11.84 4.67l-11.84 -4.67v-9.35zM519.97 885.28l11.84 4.67v9.35l-11.84 4.67l-11.84 -4.67v-9.35zM531.81 899.36l11.84 4.67v9.35l-11.84 4.67l-11.84 -4.67v-9.35zM377.89 913.44l11.84 4.67v9.35l-11.84 4.67l-11.84 -4.67v-9.35zM555.49 927.52l11.84 4.67v9.35l-11.84 4.67l-11.84 -4.67v-9.35zM555.49 983.84l11.84 4.67v9.35l-11.84 4.67l-11.84 -4.67v-9.35zM519.97 997.92l11.84 4.67v9.35l-11.84 4.67l-11.84 -4.67v-9.35z" fill="#25848e" stroke="#25848e" stroke-width="0.5"/>
<path d="M460.77 899.36l11.84 4.67v9.35l-11.84 4.67l-11.84 -4.67v-9.35zM401.57 913.44l11.84 4.67v9.35l-11.84 4.67l-11.84 -4.67v-9.35zM519.97 913.44l11.84 4.67v9.35l-11.84 4.67l-11.84 -4.67v-9.35zM531.81 927.52l11.84 4.67v9.35l-11.84 4.67l-11.84 -4.67v-9.35zM579.17 927.52l11.84 4.67v9.35l-11.84 4.67l-11.84 -4.67v-9.35zM212.13 941.6l11.84 4.67v9.35l-11.84 4.67l-11.84 -4.67v-9.35zM247.65 955.68l11.84 4.67v9.35l-11.84 4.67l-11.84 -4.67v-9.35zM401.57 969.76l11.84 4.67v9.35l-11.84 4.67l-11.84 -4.67v-9.35zM425.25 969.76l11.84 4.67v9.35l-11.84 4.67l-11.84 -4.67v-9.35zM543.65 969.76l11.84 4.67v9.35l-11.84 4.67l-11.84 -4.67v-9.35z" fill="#21918c" stroke="#21918c" stroke-width="0.5"/>
<path d="M508.13 899.36l11.84 4.67v9.35l-11.84 4.67l-11.84 -4.67v-9.35zM271.33 927.52l11.84 4.67v9.35l-11.84 4.67l-11.84 -4.67v-9.35zM235.81 941.6l11.84 4.67v9.35l-11.84 4.67l-11.84 -4.67v-9.35zM567.33 941.6l11.84 4.67v9.35l-11.84 4.67l-11.84 -4.67v-9.35zM555.49 955.68l11.84 4.67v9.35l-11.84 4.67l-11.84 -4.67v-9.35zM472.61 969.76l11.84 4.67v9.35l-11.84 4.67l-11.84 -4.67v-9.35zM567.33 969.76l11.84 4.67v9.35l-11.84 4.67l-11.84 -4.67v-9.35zM484.45 983.84l11.84 4.67v9.35l-11.84 4.67l-11.84 -4.67v-9.35zM508.13 983.84l11.84 4.67v9.35l-11.84 4.67l-11.84 -4.67v-9.35zM531.81 983.84l11.84 4.67v9.35l-11.84 4.67l-11.84 -4.67v-9.35z" fill="#1e9c89" stroke="#1e9c89" stroke-width="0.5"/>
<path d="M484.45 899.36l11.84 4.67v9.35l-11.84 4.67l-11.84 -4.67v-9.35zM425.25 913.44l11.84 4.67v9.35l-11.84 4.67l-11.84 -4.67v-9.35zM295.01 927.52l11.84 4.67v9.35l-11.84 4.67l-11.84 -4.67v-9.35zM519.97 941.6l11.84 4.67v9.35l-11.84 4.67l-11.84 -4.67v-9.35zM271.33 955.68l11.84 4.67v9.35l-11.84 4.67l-11.84 -4.67v-9.35zM448.93 969.76l11.84 4.67v9.35l-11.84 4.67l-11.84 -4.67v-9.35zM519.97 969.76l11.84 4.67v9.35l-11.84 4.67l-11.84 -4.67v-9.35z" fill="#22a884" stroke="#22a884" stroke-width="0.5"/>
<path d="M472.61 913.44l11.84 4.67v9.35l-11.84 4.67l-11.84 -4.67v-9.35zM496.29 913.44l11.84 4.67v9.35l-11.84 4.67l-11.84 -4.67v-9.35zM508.13 927.52l11.84 4.67v9.35l-11.84 4.67l-11.84 -4.67v-9.35zM591.01 941.6l11.84 4.67v9.35l-11.84 4.67l-11.84 -4.67v-9.35zM638.37 941.6l11.84 4.67v9.35l-11.84 4.67l-11.84 -4.67v-9.35zM508.13 955.68l11.84 4.67v9.35l-11.84 4.67l-11.84 -4.67v-9.35zM531.81 955.68l11.84 4.67v9.35l-11.84 4.67l-11.84 -4.67v-9.35zM579.17 955.68l11.84 4.67v9.35l-11.84 4.67l-11.84 -4.67v-9.35zM496.29 969.76l11.84 4.67v9.35l-11.84 4.67l-11.84 -4.67v-9.35z" fill="#2fb47c" stroke="#2fb47c" stroke-width="0.5"/>
<path d="M448.93 913.44l11.84 4.67v9.35l-11.84 4.67l-11.84 -4.67v-9.35zM318.69 927.52l11.84 4.67v9.35l-11.84 4.67l-11.84 -4.67v-9.35zM484.45 927.52l11.84 4.67v9.35l-11.84 4.67l-11.84 -4.67v-9.35zM614.69 941.6l11.84 4.67v9.35l-11.84 4.67l-11.84 -4.67v-9.35zM662.05 941.6l11.84 4.67v9.35l-11.84 4.67l-11.84 -4.67v-9.35zM295.01 955.68l11.84 4.67v9.35l-11.84 4.67l-11.84 -4.67v-9.35z" fill="#44bf70" stroke="#44bf70" stroke-width="0.5"/>
<path d="M259.49 941.6l11.84 4.67v9.35l-11.84 4.67l-11.84 -4.67v-9.35zM496.29 941.6l11.84 4.67v9.35l-11.84 4.67l-11.84 -4.67v-9.35zM318.69 955.68l11.84 4.67v9.35l-11.84 4.67l-11.84 -4.67v-9.35zM437.09 955.68l11.84 4.67v9.35l-11.84 4.67l-11.84 -4.67v-9.35zM460.77 955.68l11.84 4.67v9.35l-11.84 4.67l-11.84 -4.67v-9.35zM484.45 955.68l11.84 4.67v9.35l-11.84 4.67l-11.84 -4.67v-9.35z" fill="#5ec962" stroke="#5ec962" stroke-width="0.5"/>
<path d="M342.37 927.52l11.84 4.67v9.35l-11.84 4.67l-11.84 -4.67v-9.35zM460.77 927.52l11.84 4.67v9.35l-11.84 4.67l-11.84 -4.67v-9.35zM472.61 941.6l11.84 4.67v9.35l-11.84 4.67l-11.84 -4.67v-9.35zM342.37 955.68l11.84 4.67v9.35l-11.84 4.67l-11.84 -4.67v-9.35z" fill="#7ad151" stroke="#7ad151" stroke-width="0.5"/>
<path d="M366.05 927.52l11.84 4.67v9.35l-11.84 4.67l-11.84 -4.67v-9.35zM389.73 927.52l11.84 4.67v9.35l-11.84 4.67l-11.84 -4.67v-9.35zM366.05 955.68l11.84 4.67v9.35l-11.84 4.67l-11.84 -4.67v-9.35zM413.41 955.68l11.84 4.67v9.35l-11.84 4.67l-11.84 -4.67v-9.35z" fill="#9bd93c" stroke="#9bd93c" stroke-width="0.5"/>
<path d="M283.17 941.6l11.84 4.67v9.35l-11.84 4.67l-11.84 -4.67v-9.35z" fill="#bddf26" stroke="#bddf26" stroke-width="0.5"/>
<path d="M306.85 941.6l11.84 4.67v9.35l-11.84 4.67l-11.84 -4.67v-9.35zM330.53 941.6l11.84 4.67v9.35l-11.84 4.67l-11.84 -4.67v-9.35zM401.57 941.6l11.84 4.67v9.35l-11.84 4.67l-11.84 -4.67v-9.35z" fill="#dfe318" stroke="#dfe318" stroke-width="0.5"/>
<path d="M354.21 941.6l11.84 4.67v9.35l-11.84 4.67l-11.84 -4.67v-9.35z" fill="#fde725" stroke="#fde725" stroke-width="0.5"/>
<path d="M101.3 951.8H810.8" stroke="#000" stroke-width="2.6" stroke-dasharray="10.8 9.84" stroke-dashoffset="0.76" fill="none"/>
<path d="M101.3 1146.66h13.5M810.8 1146.66h-13.5M101.3 1097.94h7M810.8 1097.94h-7M101.3 1049.23h13.5M810.8 1049.23h-13.5M101.3 1000.51h7M810.8 1000.51h-7M101.3 951.8h13.5M810.8 951.8h-13.5M101.3 903.08h7M810.8 903.08h-7M101.3 854.37h13.5M810.8 854.37h-13.5M101.3 805.65h7M810.8 805.65h-7M101.3 756.94h13.5M810.8 756.94h-13.5M101.3 708.22h7M810.8 708.22h-7M101.3 659.51h13.5M810.8 659.51h-13.5M108.27 1170.4v-7.4M108.27 635.5v7.4M114.63 1170.4v-7.4M114.63 635.5v7.4M120.14 1170.4v-7.4M120.14 635.5v7.4M125 1170.4v-7.4M125 635.5v7.4M129.35 1170.4v-14.4M129.35 635.5v14.4M157.95 1170.4v-7.4M157.95 635.5v7.4M174.68 1170.4v-7.4M174.68 635.5v7.4M186.55 1170.4v-7.4M186.55 635.5v7.4M195.75 1170.4v-7.4M195.75 635.5v7.4M203.27 1170.4v-7.4M203.27 635.5v7.4M209.63 1170.4v-7.4M209.63 635.5v7.4M215.14 1170.4v-7.4M215.14 635.5v7.4M220 1170.4v-7.4M220 635.5v7.4M224.35 1170.4v-14.4M224.35 635.5v14.4M252.95 1170.4v-7.4M252.95 635.5v7.4M269.68 1170.4v-7.4M269.68 635.5v7.4M281.55 1170.4v-7.4M281.55 635.5v7.4M290.75 1170.4v-7.4M290.75 635.5v7.4M298.27 1170.4v-7.4M298.27 635.5v7.4M304.63 1170.4v-7.4M304.63 635.5v7.4M310.14 1170.4v-7.4M310.14 635.5v7.4M315 1170.4v-7.4M315 635.5v7.4M319.35 1170.4v-14.4M319.35 635.5v14.4M347.95 1170.4v-7.4M347.95 635.5v7.4M364.68 1170.4v-7.4M364.68 635.5v7.4M376.55 1170.4v-7.4M376.55 635.5v7.4M385.75 1170.4v-7.4M385.75 635.5v7.4M393.27 1170.4v-7.4M393.27 635.5v7.4M399.63 1170.4v-7.4M399.63 635.5v7.4M405.14 1170.4v-7.4M405.14 635.5v7.4M410 1170.4v-7.4M410 635.5v7.4M414.35 1170.4v-14.4M414.35 635.5v14.4M442.95 1170.4v-7.4M442.95 635.5v7.4M459.68 1170.4v-7.4M459.68 635.5v7.4M471.55 1170.4v-7.4M471.55 635.5v7.4M480.75 1170.4v-7.4M480.75 635.5v7.4M488.27 1170.4v-7.4M488.27 635.5v7.4M494.63 1170.4v-7.4M494.63 635.5v7.4M500.14 1170.4v-7.4M500.14 635.5v7.4M505 1170.4v-7.4M505 635.5v7.4M509.35 1170.4v-14.4M509.35 635.5v14.4M537.95 1170.4v-7.4M537.95 635.5v7.4M554.68 1170.4v-7.4M554.68 635.5v7.4M566.55 1170.4v-7.4M566.55 635.5v7.4M575.75 1170.4v-7.4M575.75 635.5v7.4M583.27 1170.4v-7.4M583.27 635.5v7.4M589.63 1170.4v-7.4M589.63 635.5v7.4M595.14 1170.4v-7.4M595.14 635.5v7.4M600 1170.4v-7.4M600 635.5v7.4M604.35 1170.4v-14.4M604.35 635.5v14.4M632.95 1170.4v-7.4M632.95 635.5v7.4M649.68 1170.4v-7.4M649.68 635.5v7.4M661.55 1170.4v-7.4M661.55 635.5v7.4M670.75 1170.4v-7.4M670.75 635.5v7.4M678.27 1170.4v-7.4M678.27 635.5v7.4M684.63 1170.4v-7.4M684.63 635.5v7.4M690.14 1170.4v-7.4M690.14 635.5v7.4M695 1170.4v-7.4M695 635.5v7.4M699.35 1170.4v-14.4M699.35 635.5v14.4M727.95 1170.4v-7.4M727.95 635.5v7.4M744.68 1170.4v-7.4M744.68 635.5v7.4M756.55 1170.4v-7.4M756.55 635.5v7.4M765.75 1170.4v-7.4M765.75 635.5v7.4M773.27 1170.4v-7.4M773.27 635.5v7.4M779.63 1170.4v-7.4M779.63 635.5v7.4M785.14 1170.4v-7.4M785.14 635.5v7.4M790 1170.4v-7.4M790 635.5v7.4M794.35 1170.4v-14.4M794.35 635.5v14.4" stroke="#000" stroke-width="2.4" fill="none"/>
</g>
<rect x="101.3" y="635.5" width="709.5" height="534.9" fill="none" stroke="#3c3c3c" stroke-width="1.5"/>
<text x="87.3" y="667.81" text-anchor="end" font-size="24.1" fill="#4d4d4d" stroke="#4d4d4d" stroke-width="0.45" stroke-linejoin="round">0.6</text>
<text x="87.3" y="765.24" text-anchor="end" font-size="24.1" fill="#4d4d4d" stroke="#4d4d4d" stroke-width="0.45" stroke-linejoin="round">0.4</text>
<text x="87.3" y="862.67" text-anchor="end" font-size="24.1" fill="#4d4d4d" stroke="#4d4d4d" stroke-width="0.45" stroke-linejoin="round">0.2</text>
<text x="87.3" y="960.1" text-anchor="end" font-size="24.1" fill="#4d4d4d" stroke="#4d4d4d" stroke-width="0.45" stroke-linejoin="round">0.0</text>
<text x="87.3" y="1057.53" text-anchor="end" font-size="24.1" fill="#4d4d4d" stroke="#4d4d4d" stroke-width="0.45" stroke-linejoin="round">−0.2</text>
<text x="87.3" y="1154.96" text-anchor="end" font-size="24.1" fill="#4d4d4d" stroke="#4d4d4d" stroke-width="0.45" stroke-linejoin="round">−0.4</text>
<text x="129.35" y="1207.5" text-anchor="middle" font-size="24.1" fill="#4d4d4d" stroke="#4d4d4d" stroke-width="0.45" stroke-linejoin="round">10<tspan font-size="17.0" dy="-11.4">0</tspan></text>
<text x="224.35" y="1207.5" text-anchor="middle" font-size="24.1" fill="#4d4d4d" stroke="#4d4d4d" stroke-width="0.45" stroke-linejoin="round">10<tspan font-size="17.0" dy="-11.4">1</tspan></text>
<text x="319.35" y="1207.5" text-anchor="middle" font-size="24.1" fill="#4d4d4d" stroke="#4d4d4d" stroke-width="0.45" stroke-linejoin="round">10<tspan font-size="17.0" dy="-11.4">2</tspan></text>
<text x="414.35" y="1207.5" text-anchor="middle" font-size="24.1" fill="#4d4d4d" stroke="#4d4d4d" stroke-width="0.45" stroke-linejoin="round">10<tspan font-size="17.0" dy="-11.4">3</tspan></text>
<text x="509.35" y="1207.5" text-anchor="middle" font-size="24.1" fill="#4d4d4d" stroke="#4d4d4d" stroke-width="0.45" stroke-linejoin="round">10<tspan font-size="17.0" dy="-11.4">4</tspan></text>
<text x="604.35" y="1207.5" text-anchor="middle" font-size="24.1" fill="#4d4d4d" stroke="#4d4d4d" stroke-width="0.45" stroke-linejoin="round">10<tspan font-size="17.0" dy="-11.4">5</tspan></text>
<text x="699.35" y="1207.5" text-anchor="middle" font-size="24.1" fill="#4d4d4d" stroke="#4d4d4d" stroke-width="0.45" stroke-linejoin="round">10<tspan font-size="17.0" dy="-11.4">6</tspan></text>
<text x="794.35" y="1207.5" text-anchor="middle" font-size="24.1" fill="#4d4d4d" stroke="#4d4d4d" stroke-width="0.45" stroke-linejoin="round">10<tspan font-size="17.0" dy="-11.4">7</tspan></text>
<text x="456.05" y="1242.8" text-anchor="middle" font-size="29.0" fill="#000" stroke="#000" stroke-width="0.5" stroke-linejoin="round">Node Out Strength</text>
<g transform="translate(21.2 903.2) rotate(-90)" fill="#000">
<text x="0" y="0" text-anchor="middle" font-size="29.0" stroke="#000" stroke-width="0.5" stroke-linejoin="round">R<tspan font-size="20.0" dy="5.2">SP</tspan><tspan dy="-5.2" dx="4">−</tspan><tspan dx="5.1">R</tspan><tspan font-size="20.0" dy="5.2">OD</tspan></text>
</g>
<rect x="677.8" y="1017.9" width="41.4" height="123.2" fill="#fde725"/>
<rect x="677.8" y="1024.06" width="41.4" height="117.04" fill="#dde318"/>
<rect x="677.8" y="1030.22" width="41.4" height="110.88" fill="#bade28"/>
<rect x="677.8" y="1036.38" width="41.4" height="104.72" fill="#95d840"/>
<rect x="677.8" y="1042.54" width="41.4" height="98.56" fill="#75d054"/>
<rect x="677.8" y="1048.7" width="41.4" height="92.4" fill="#56c667"/>
<rect x="677.8" y="1054.86" width="41.4" height="86.24" fill="#3dbc74"/>
<rect x="677.8" y="1061.02" width="41.4" height="80.08" fill="#29af7f"/>
<rect x="677.8" y="1067.18" width="41.4" height="73.92" fill="#20a386"/>
<rect x="677.8" y="1073.34" width="41.4" height="67.76" fill="#1f968b"/>
<rect x="677.8" y="1079.5" width="41.4" height="61.6" fill="#238a8d"/>
<rect x="677.8" y="1085.66" width="41.4" height="55.44" fill="#287d8e"/>
<rect x="677.8" y="1091.82" width="41.4" height="49.28" fill="#2d718e"/>
<rect x="677.8" y="1097.98" width="41.4" height="43.12" fill="#33638d"/>
<rect x="677.8" y="1104.14" width="41.4" height="36.96" fill="#39558c"/>
<rect x="677.8" y="1110.3" width="41.4" height="30.8" fill="#404688"/>
<rect x="677.8" y="1116.46" width="41.4" height="24.64" fill="#453781"/>
<rect x="677.8" y="1122.62" width="41.4" height="18.48" fill="#482576"/>
<rect x="677.8" y="1128.78" width="41.4" height="12.32" fill="#481467"/>
<rect x="677.8" y="1134.94" width="41.4" height="6.16" fill="#440154"/>
<path d="M677.8 1036.3h8.2M719.2 1036.3h-8.2M677.8 1087.1h8.2M719.2 1087.1h-8.2M677.8 1138h8.2M719.2 1138h-8.2" stroke="#fff" stroke-opacity="0.75" stroke-width="1.1" fill="none"/>
<text x="734.7" y="1044.6" font-size="24.1" fill="#000" stroke="#000" stroke-width="0.5" stroke-linejoin="round">100</text>
<text x="734.7" y="1095.4" font-size="24.1" fill="#000" stroke="#000" stroke-width="0.5" stroke-linejoin="round">10</text>
<text x="734.7" y="1146.3" font-size="24.1" fill="#000" stroke="#000" stroke-width="0.5" stroke-linejoin="round">1</text>
<text x="677.8" y="1000.6" font-size="29.0" fill="#000" stroke="#000" stroke-width="0.5" stroke-linejoin="round">count</text>
</g>
<g id="p4">
<clipPath id="cp4"><rect x="938.4" y="637.1" width="711" height="533.3"/></clipPath>
<g clip-path="url(#cp4)">
<path d="M1390.92 810.33l10.8 4.66v9.32l-10.8 4.66l-10.8 -4.66v-9.32z" fill="#cde11d" stroke="#cde11d" stroke-width="0.5"/>
<path d="M1606.87 669.98l10.8 4.66v9.32l-10.8 4.66l-10.8 -4.66v-9.32z" fill="#efe51c" stroke="#efe51c" stroke-width="0.5"/>
<path d="M1401.72 684.02l10.8 4.66v9.32l-10.8 4.66l-10.8 -4.66v-9.32zM1509.69 684.02l10.8 4.66v9.32l-10.8 4.66l-10.8 -4.66v-9.32zM1434.11 698.05l10.8 4.66v9.32l-10.8 4.66l-10.8 -4.66v-9.32zM1455.7 698.05l10.8 4.66v9.32l-10.8 4.66l-10.8 -4.66v-9.32zM1477.3 698.05l10.8 4.66v9.32l-10.8 4.66l-10.8 -4.66v-9.32zM1380.12 712.09l10.8 4.66v9.32l-10.8 4.66l-10.8 -4.66v-9.32zM1423.31 712.09l10.8 4.66v9.32l-10.8 4.66l-10.8 -4.66v-9.32zM1552.88 740.16l10.8 4.66v9.32l-10.8 4.66l-10.8 -4.66v-9.32zM1326.14 754.19l10.8 4.66v9.32l-10.8 4.66l-10.8 -4.66v-9.32zM1347.73 754.19l10.8 4.66v9.32l-10.8 4.66l-10.8 -4.66v-9.32zM1272.15 796.3l10.8 4.66v9.32l-10.8 4.66l-10.8 -4.66v-9.32zM1315.34 796.3l10.8 4.66v9.32l-10.8 4.66l-10.8 -4.66v-9.32zM1196.57 810.33l10.8 4.66v9.32l-10.8 4.66l-10.8 -4.66v-9.32zM1120.98 824.37l10.8 4.66v9.32l-10.8 4.66l-10.8 -4.66v-9.32zM1272.15 824.37l10.8 4.66v9.32l-10.8 4.66l-10.8 -4.66v-9.32zM1466.5 824.37l10.8 4.66v9.32l-10.8 4.66l-10.8 -4.66v-9.32zM1110.19 838.4l10.8 4.66v9.32l-10.8 4.66l-10.8 -4.66v-9.32zM1239.76 838.4l10.8 4.66v9.32l-10.8 4.66l-10.8 -4.66v-9.32zM1455.7 838.4l10.8 4.66v9.32l-10.8 4.66l-10.8 -4.66v-9.32zM1498.89 838.4l10.8 4.66v9.32l-10.8 4.66l-10.8 -4.66v-9.32zM1056.2 852.44l10.8 4.66v9.32l-10.8 4.66l-10.8 -4.66v-9.32zM1207.36 852.44l10.8 4.66v9.32l-10.8 4.66l-10.8 -4.66v-9.32zM1466.5 852.44l10.8 4.66v9.32l-10.8 4.66l-10.8 -4.66v-9.32zM1261.35 866.47l10.8 4.66v9.32l-10.8 4.66l-10.8 -4.66v-9.32zM1434.11 866.47l10.8 4.66v9.32l-10.8 4.66l-10.8 -4.66v-9.32zM1207.36 880.51l10.8 4.66v9.32l-10.8 4.66l-10.8 -4.66v-9.32zM1250.55 880.51l10.8 4.66v9.32l-10.8 4.66l-10.8 -4.66v-9.32zM1423.31 880.51l10.8 4.66v9.32l-10.8 4.66l-10.8 -4.66v-9.32zM1444.91 880.51l10.8 4.66v9.32l-10.8 4.66l-10.8 -4.66v-9.32zM1261.35 894.54l10.8 4.66v9.32l-10.8 4.66l-10.8 -4.66v-9.32zM1272.15 908.58l10.8 4.66v9.32l-10.8 4.66l-10.8 -4.66v-9.32zM1293.74 908.58l10.8 4.66v9.32l-10.8 4.66l-10.8 -4.66v-9.32zM1401.72 908.58l10.8 4.66v9.32l-10.8 4.66l-10.8 -4.66v-9.32zM1218.16 922.61l10.8 4.66v9.32l-10.8 4.66l-10.8 -4.66v-9.32zM1412.52 922.61l10.8 4.66v9.32l-10.8 4.66l-10.8 -4.66v-9.32zM1455.7 922.61l10.8 4.66v9.32l-10.8 4.66l-10.8 -4.66v-9.32zM1423.31 936.65l10.8 4.66v9.32l-10.8 4.66l-10.8 -4.66v-9.32zM1347.73 950.68l10.8 4.66v9.32l-10.8 4.66l-10.8 -4.66v-9.32zM1390.92 950.68l10.8 4.66v9.32l-10.8 4.66l-10.8 -4.66v-9.32zM1347.73 978.75l10.8 4.66v9.32l-10.8 4.66l-10.8 -4.66v-9.32zM1336.93 992.79l10.8 4.66v9.32l-10.8 4.66l-10.8 -4.66v-9.32zM1358.53 992.79l10.8 4.66v9.32l-10.8 4.66l-10.8 -4.66v-9.32zM1380.12 992.79l10.8 4.66v9.32l-10.8 4.66l-10.8 -4.66v-9.32zM1390.92 1006.82l10.8 4.66v9.32l-10.8 4.66l-10.8 -4.66v-9.32zM1412.52 1091.03l10.8 4.66v9.32l-10.8 4.66l-10.8 -4.66v-9.32zM1336.93 1105.07l10.8 4.66v9.32l-10.8 4.66l-10.8 -4.66v-9.32z" fill="#440154" stroke="#440154" stroke-width="0.5"/>
<path d="M1574.48 655.95l10.8 4.66v9.32l-10.8 4.66l-10.8 -4.66v-9.32zM1498.89 669.98l10.8 4.66v9.32l-10.8 4.66l-10.8 -4.66v-9.32zM1542.09 669.98l10.8 4.66v9.32l-10.8 4.66l-10.8 -4.66v-9.32zM1444.91 684.02l10.8 4.66v9.32l-10.8 4.66l-10.8 -4.66v-9.32zM1488.1 684.02l10.8 4.66v9.32l-10.8 4.66l-10.8 -4.66v-9.32zM1412.52 698.05l10.8 4.66v9.32l-10.8 4.66l-10.8 -4.66v-9.32zM1336.93 768.23l10.8 4.66v9.32l-10.8 4.66l-10.8 -4.66v-9.32zM1358.53 768.23l10.8 4.66v9.32l-10.8 4.66l-10.8 -4.66v-9.32zM1304.54 782.26l10.8 4.66v9.32l-10.8 4.66l-10.8 -4.66v-9.32zM1326.14 782.26l10.8 4.66v9.32l-10.8 4.66l-10.8 -4.66v-9.32zM1498.89 782.26l10.8 4.66v9.32l-10.8 4.66l-10.8 -4.66v-9.32zM1488.1 796.3l10.8 4.66v9.32l-10.8 4.66l-10.8 -4.66v-9.32zM1293.74 852.44l10.8 4.66v9.32l-10.8 4.66l-10.8 -4.66v-9.32zM1282.95 894.54l10.8 4.66v9.32l-10.8 4.66l-10.8 -4.66v-9.32zM1412.52 894.54l10.8 4.66v9.32l-10.8 4.66l-10.8 -4.66v-9.32zM1336.93 908.58l10.8 4.66v9.32l-10.8 4.66l-10.8 -4.66v-9.32zM1380.12 908.58l10.8 4.66v9.32l-10.8 4.66l-10.8 -4.66v-9.32zM1326.14 922.61l10.8 4.66v9.32l-10.8 4.66l-10.8 -4.66v-9.32zM1347.73 922.61l10.8 4.66v9.32l-10.8 4.66l-10.8 -4.66v-9.32zM1369.33 922.61l10.8 4.66v9.32l-10.8 4.66l-10.8 -4.66v-9.32zM1390.92 922.61l10.8 4.66v9.32l-10.8 4.66l-10.8 -4.66v-9.32z" fill="#472e7c" stroke="#472e7c" stroke-width="0.5"/>
<path d="M1444.91 712.09l10.8 4.66v9.32l-10.8 4.66l-10.8 -4.66v-9.32zM1574.48 712.09l10.8 4.66v9.32l-10.8 4.66l-10.8 -4.66v-9.32zM1434.11 726.12l10.8 4.66v9.32l-10.8 4.66l-10.8 -4.66v-9.32zM1401.72 740.16l10.8 4.66v9.32l-10.8 4.66l-10.8 -4.66v-9.32zM1390.92 754.19l10.8 4.66v9.32l-10.8 4.66l-10.8 -4.66v-9.32zM1347.73 782.26l10.8 4.66v9.32l-10.8 4.66l-10.8 -4.66v-9.32zM1293.74 796.3l10.8 4.66v9.32l-10.8 4.66l-10.8 -4.66v-9.32zM1250.55 824.37l10.8 4.66v9.32l-10.8 4.66l-10.8 -4.66v-9.32zM1444.91 852.44l10.8 4.66v9.32l-10.8 4.66l-10.8 -4.66v-9.32zM1304.54 866.47l10.8 4.66v9.32l-10.8 4.66l-10.8 -4.66v-9.32zM1293.74 880.51l10.8 4.66v9.32l-10.8 4.66l-10.8 -4.66v-9.32zM1304.54 922.61l10.8 4.66v9.32l-10.8 4.66l-10.8 -4.66v-9.32zM1336.93 936.65l10.8 4.66v9.32l-10.8 4.66l-10.8 -4.66v-9.32z" fill="#404588" stroke="#404588" stroke-width="0.5"/>
<path d="M1520.49 754.19l10.8 4.66v9.32l-10.8 4.66l-10.8 -4.66v-9.32zM1250.55 852.44l10.8 4.66v9.32l-10.8 4.66l-10.8 -4.66v-9.32zM1282.95 866.47l10.8 4.66v9.32l-10.8 4.66l-10.8 -4.66v-9.32zM1315.34 908.58l10.8 4.66v9.32l-10.8 4.66l-10.8 -4.66v-9.32z" fill="#3b528b" stroke="#3b528b" stroke-width="0.5"/>
<path d="M1585.28 698.05l10.8 4.66v9.32l-10.8 4.66l-10.8 -4.66v-9.32zM1466.5 712.09l10.8 4.66v9.32l-10.8 4.66l-10.8 -4.66v-9.32zM1509.69 768.23l10.8 4.66v9.32l-10.8 4.66l-10.8 -4.66v-9.32zM1261.35 810.33l10.8 4.66v9.32l-10.8 4.66l-10.8 -4.66v-9.32zM1261.35 838.4l10.8 4.66v9.32l-10.8 4.66l-10.8 -4.66v-9.32zM1304.54 894.54l10.8 4.66v9.32l-10.8 4.66l-10.8 -4.66v-9.32zM1326.14 894.54l10.8 4.66v9.32l-10.8 4.66l-10.8 -4.66v-9.32z" fill="#355f8d" stroke="#355f8d" stroke-width="0.5"/>
<path d="M1423.31 740.16l10.8 4.66v9.32l-10.8 4.66l-10.8 -4.66v-9.32zM1380.12 768.23l10.8 4.66v9.32l-10.8 4.66l-10.8 -4.66v-9.32zM1304.54 810.33l10.8 4.66v9.32l-10.8 4.66l-10.8 -4.66v-9.32zM1293.74 824.37l10.8 4.66v9.32l-10.8 4.66l-10.8 -4.66v-9.32zM1282.95 838.4l10.8 4.66v9.32l-10.8 4.66l-10.8 -4.66v-9.32zM1358.53 908.58l10.8 4.66v9.32l-10.8 4.66l-10.8 -4.66v-9.32z" fill="#2f6c8e" stroke="#2f6c8e" stroke-width="0.5"/>
<path d="M1531.29 684.02l10.8 4.66v9.32l-10.8 4.66l-10.8 -4.66v-9.32zM1498.89 698.05l10.8 4.66v9.32l-10.8 4.66l-10.8 -4.66v-9.32zM1520.49 698.05l10.8 4.66v9.32l-10.8 4.66l-10.8 -4.66v-9.32zM1488.1 712.09l10.8 4.66v9.32l-10.8 4.66l-10.8 -4.66v-9.32zM1455.7 726.12l10.8 4.66v9.32l-10.8 4.66l-10.8 -4.66v-9.32zM1531.29 740.16l10.8 4.66v9.32l-10.8 4.66l-10.8 -4.66v-9.32zM1412.52 754.19l10.8 4.66v9.32l-10.8 4.66l-10.8 -4.66v-9.32zM1336.93 796.3l10.8 4.66v9.32l-10.8 4.66l-10.8 -4.66v-9.32zM1304.54 838.4l10.8 4.66v9.32l-10.8 4.66l-10.8 -4.66v-9.32zM1272.15 852.44l10.8 4.66v9.32l-10.8 4.66l-10.8 -4.66v-9.32zM1401.72 880.51l10.8 4.66v9.32l-10.8 4.66l-10.8 -4.66v-9.32zM1390.92 894.54l10.8 4.66v9.32l-10.8 4.66l-10.8 -4.66v-9.32z" fill="#2a788e" stroke="#2a788e" stroke-width="0.5"/>
<path d="M1563.68 669.98l10.8 4.66v9.32l-10.8 4.66l-10.8 -4.66v-9.32zM1477.3 726.12l10.8 4.66v9.32l-10.8 4.66l-10.8 -4.66v-9.32zM1444.91 740.16l10.8 4.66v9.32l-10.8 4.66l-10.8 -4.66v-9.32zM1455.7 810.33l10.8 4.66v9.32l-10.8 4.66l-10.8 -4.66v-9.32zM1315.34 824.37l10.8 4.66v9.32l-10.8 4.66l-10.8 -4.66v-9.32zM1315.34 852.44l10.8 4.66v9.32l-10.8 4.66l-10.8 -4.66v-9.32zM1412.52 866.47l10.8 4.66v9.32l-10.8 4.66l-10.8 -4.66v-9.32zM1336.93 880.51l10.8 4.66v9.32l-10.8 4.66l-10.8 -4.66v-9.32zM1380.12 880.51l10.8 4.66v9.32l-10.8 4.66l-10.8 -4.66v-9.32zM1369.33 894.54l10.8 4.66v9.32l-10.8 4.66l-10.8 -4.66v-9.32z" fill="#25848e" stroke="#25848e" stroke-width="0.5"/>
<path d="M1596.07 655.95l10.8 4.66v9.32l-10.8 4.66l-10.8 -4.66v-9.32zM1596.07 684.02l10.8 4.66v9.32l-10.8 4.66l-10.8 -4.66v-9.32zM1369.33 782.26l10.8 4.66v9.32l-10.8 4.66l-10.8 -4.66v-9.32zM1434.11 838.4l10.8 4.66v9.32l-10.8 4.66l-10.8 -4.66v-9.32zM1423.31 852.44l10.8 4.66v9.32l-10.8 4.66l-10.8 -4.66v-9.32zM1326.14 866.47l10.8 4.66v9.32l-10.8 4.66l-10.8 -4.66v-9.32zM1358.53 880.51l10.8 4.66v9.32l-10.8 4.66l-10.8 -4.66v-9.32zM1347.73 894.54l10.8 4.66v9.32l-10.8 4.66l-10.8 -4.66v-9.32z" fill="#21918c" stroke="#21918c" stroke-width="0.5"/>
<path d="M1509.69 712.09l10.8 4.66v9.32l-10.8 4.66l-10.8 -4.66v-9.32zM1434.11 754.19l10.8 4.66v9.32l-10.8 4.66l-10.8 -4.66v-9.32zM1401.72 768.23l10.8 4.66v9.32l-10.8 4.66l-10.8 -4.66v-9.32zM1477.3 782.26l10.8 4.66v9.32l-10.8 4.66l-10.8 -4.66v-9.32zM1466.5 796.3l10.8 4.66v9.32l-10.8 4.66l-10.8 -4.66v-9.32zM1444.91 824.37l10.8 4.66v9.32l-10.8 4.66l-10.8 -4.66v-9.32zM1315.34 880.51l10.8 4.66v9.32l-10.8 4.66l-10.8 -4.66v-9.32z" fill="#1e9c89" stroke="#1e9c89" stroke-width="0.5"/>
<path d="M1552.88 684.02l10.8 4.66v9.32l-10.8 4.66l-10.8 -4.66v-9.32zM1542.09 726.12l10.8 4.66v9.32l-10.8 4.66l-10.8 -4.66v-9.32zM1466.5 740.16l10.8 4.66v9.32l-10.8 4.66l-10.8 -4.66v-9.32zM1358.53 796.3l10.8 4.66v9.32l-10.8 4.66l-10.8 -4.66v-9.32zM1326.14 810.33l10.8 4.66v9.32l-10.8 4.66l-10.8 -4.66v-9.32zM1326.14 838.4l10.8 4.66v9.32l-10.8 4.66l-10.8 -4.66v-9.32zM1347.73 866.47l10.8 4.66v9.32l-10.8 4.66l-10.8 -4.66v-9.32z" fill="#22a884" stroke="#22a884" stroke-width="0.5"/>
<path d="M1498.89 754.19l10.8 4.66v9.32l-10.8 4.66l-10.8 -4.66v-9.32zM1488.1 768.23l10.8 4.66v9.32l-10.8 4.66l-10.8 -4.66v-9.32zM1390.92 782.26l10.8 4.66v9.32l-10.8 4.66l-10.8 -4.66v-9.32zM1347.73 810.33l10.8 4.66v9.32l-10.8 4.66l-10.8 -4.66v-9.32zM1336.93 852.44l10.8 4.66v9.32l-10.8 4.66l-10.8 -4.66v-9.32zM1401.72 852.44l10.8 4.66v9.32l-10.8 4.66l-10.8 -4.66v-9.32zM1369.33 866.47l10.8 4.66v9.32l-10.8 4.66l-10.8 -4.66v-9.32zM1390.92 866.47l10.8 4.66v9.32l-10.8 4.66l-10.8 -4.66v-9.32z" fill="#2fb47c" stroke="#2fb47c" stroke-width="0.5"/>
<path d="M1542.09 698.05l10.8 4.66v9.32l-10.8 4.66l-10.8 -4.66v-9.32zM1552.88 712.09l10.8 4.66v9.32l-10.8 4.66l-10.8 -4.66v-9.32zM1498.89 726.12l10.8 4.66v9.32l-10.8 4.66l-10.8 -4.66v-9.32zM1509.69 740.16l10.8 4.66v9.32l-10.8 4.66l-10.8 -4.66v-9.32zM1423.31 768.23l10.8 4.66v9.32l-10.8 4.66l-10.8 -4.66v-9.32zM1455.7 782.26l10.8 4.66v9.32l-10.8 4.66l-10.8 -4.66v-9.32zM1336.93 824.37l10.8 4.66v9.32l-10.8 4.66l-10.8 -4.66v-9.32zM1412.52 838.4l10.8 4.66v9.32l-10.8 4.66l-10.8 -4.66v-9.32zM1380.12 852.44l10.8 4.66v9.32l-10.8 4.66l-10.8 -4.66v-9.32z" fill="#44bf70" stroke="#44bf70" stroke-width="0.5"/>
<path d="M1563.68 698.05l10.8 4.66v9.32l-10.8 4.66l-10.8 -4.66v-9.32zM1531.29 712.09l10.8 4.66v9.32l-10.8 4.66l-10.8 -4.66v-9.32zM1488.1 740.16l10.8 4.66v9.32l-10.8 4.66l-10.8 -4.66v-9.32zM1455.7 754.19l10.8 4.66v9.32l-10.8 4.66l-10.8 -4.66v-9.32zM1477.3 754.19l10.8 4.66v9.32l-10.8 4.66l-10.8 -4.66v-9.32zM1444.91 768.23l10.8 4.66v9.32l-10.8 4.66l-10.8 -4.66v-9.32zM1466.5 768.23l10.8 4.66v9.32l-10.8 4.66l-10.8 -4.66v-9.32zM1380.12 796.3l10.8 4.66v9.32l-10.8 4.66l-10.8 -4.66v-9.32zM1444.91 796.3l10.8 4.66v9.32l-10.8 4.66l-10.8 -4.66v-9.32zM1434.11 810.33l10.8 4.66v9.32l-10.8 4.66l-10.8 -4.66v-9.32zM1423.31 824.37l10.8 4.66v9.32l-10.8 4.66l-10.8 -4.66v-9.32zM1347.73 838.4l10.8 4.66v9.32l-10.8 4.66l-10.8 -4.66v-9.32zM1358.53 852.44l10.8 4.66v9.32l-10.8 4.66l-10.8 -4.66v-9.32z" fill="#5ec962" stroke="#5ec962" stroke-width="0.5"/>
<path d="M1574.48 684.02l10.8 4.66v9.32l-10.8 4.66l-10.8 -4.66v-9.32zM1520.49 726.12l10.8 4.66v9.32l-10.8 4.66l-10.8 -4.66v-9.32zM1412.52 782.26l10.8 4.66v9.32l-10.8 4.66l-10.8 -4.66v-9.32zM1434.11 782.26l10.8 4.66v9.32l-10.8 4.66l-10.8 -4.66v-9.32z" fill="#7ad151" stroke="#7ad151" stroke-width="0.5"/>
<path d="M1585.28 669.98l10.8 4.66v9.32l-10.8 4.66l-10.8 -4.66v-9.32zM1401.72 796.3l10.8 4.66v9.32l-10.8 4.66l-10.8 -4.66v-9.32zM1423.31 796.3l10.8 4.66v9.32l-10.8 4.66l-10.8 -4.66v-9.32zM1369.33 810.33l10.8 4.66v9.32l-10.8 4.66l-10.8 -4.66v-9.32zM1358.53 824.37l10.8 4.66v9.32l-10.8 4.66l-10.8 -4.66v-9.32zM1401.72 824.37l10.8 4.66v9.32l-10.8 4.66l-10.8 -4.66v-9.32zM1369.33 838.4l10.8 4.66v9.32l-10.8 4.66l-10.8 -4.66v-9.32zM1390.92 838.4l10.8 4.66v9.32l-10.8 4.66l-10.8 -4.66v-9.32z" fill="#9bd93c" stroke="#9bd93c" stroke-width="0.5"/>
<path d="M1412.52 810.33l10.8 4.66v9.32l-10.8 4.66l-10.8 -4.66v-9.32zM1380.12 824.37l10.8 4.66v9.32l-10.8 4.66l-10.8 -4.66v-9.32z" fill="#bddf26" stroke="#bddf26" stroke-width="0.5"/>
<path d="M918.4 1185.29L1669.4 621.86" stroke="#000" stroke-width="2.6" stroke-dasharray="10.8 9.83" stroke-dashoffset="-2.8" fill="none"/>
<path d="M944.81 1170.4v-7.1M944.81 637.1v7.1M938.4 1165.47h7.1M1649.4 1165.47h-7.1M954.21 1170.4v-7.1M954.21 637.1v7.1M938.4 1158.42h7.1M1649.4 1158.42h-7.1M962.49 1170.4v-7.1M962.49 637.1v7.1M938.4 1152.21h7.1M1649.4 1152.21h-7.1M969.9 1170.4v-14.1M969.9 637.1v14.1M938.4 1146.65h14.1M1649.4 1146.65h-14.1M1018.65 1170.4v-7.1M1018.65 637.1v7.1M938.4 1110.07h7.1M1649.4 1110.07h-7.1M1047.17 1170.4v-7.1M1047.17 637.1v7.1M938.4 1088.68h7.1M1649.4 1088.68h-7.1M1067.4 1170.4v-7.1M1067.4 637.1v7.1M938.4 1073.5h7.1M1649.4 1073.5h-7.1M1083.1 1170.4v-7.1M1083.1 637.1v7.1M938.4 1061.73h7.1M1649.4 1061.73h-7.1M1095.92 1170.4v-7.1M1095.92 637.1v7.1M938.4 1052.1h7.1M1649.4 1052.1h-7.1M1106.76 1170.4v-7.1M1106.76 637.1v7.1M938.4 1043.97h7.1M1649.4 1043.97h-7.1M1116.16 1170.4v-7.1M1116.16 637.1v7.1M938.4 1036.92h7.1M1649.4 1036.92h-7.1M1124.44 1170.4v-7.1M1124.44 637.1v7.1M938.4 1030.71h7.1M1649.4 1030.71h-7.1M1131.85 1170.4v-14.1M1131.85 637.1v14.1M938.4 1025.15h14.1M1649.4 1025.15h-14.1M1180.6 1170.4v-7.1M1180.6 637.1v7.1M938.4 988.57h7.1M1649.4 988.57h-7.1M1209.12 1170.4v-7.1M1209.12 637.1v7.1M938.4 967.18h7.1M1649.4 967.18h-7.1M1229.35 1170.4v-7.1M1229.35 637.1v7.1M938.4 952h7.1M1649.4 952h-7.1M1245.05 1170.4v-7.1M1245.05 637.1v7.1M938.4 940.23h7.1M1649.4 940.23h-7.1M1257.87 1170.4v-7.1M1257.87 637.1v7.1M938.4 930.6h7.1M1649.4 930.6h-7.1M1268.71 1170.4v-7.1M1268.71 637.1v7.1M938.4 922.47h7.1M1649.4 922.47h-7.1M1278.11 1170.4v-7.1M1278.11 637.1v7.1M938.4 915.42h7.1M1649.4 915.42h-7.1M1286.39 1170.4v-7.1M1286.39 637.1v7.1M938.4 909.21h7.1M1649.4 909.21h-7.1M1293.8 1170.4v-14.1M1293.8 637.1v14.1M938.4 903.65h14.1M1649.4 903.65h-14.1M1342.55 1170.4v-7.1M1342.55 637.1v7.1M938.4 867.07h7.1M1649.4 867.07h-7.1M1371.07 1170.4v-7.1M1371.07 637.1v7.1M938.4 845.68h7.1M1649.4 845.68h-7.1M1391.3 1170.4v-7.1M1391.3 637.1v7.1M938.4 830.5h7.1M1649.4 830.5h-7.1M1407 1170.4v-7.1M1407 637.1v7.1M938.4 818.73h7.1M1649.4 818.73h-7.1M1419.82 1170.4v-7.1M1419.82 637.1v7.1M938.4 809.1h7.1M1649.4 809.1h-7.1M1430.66 1170.4v-7.1M1430.66 637.1v7.1M938.4 800.97h7.1M1649.4 800.97h-7.1M1440.06 1170.4v-7.1M1440.06 637.1v7.1M938.4 793.92h7.1M1649.4 793.92h-7.1M1448.34 1170.4v-7.1M1448.34 637.1v7.1M938.4 787.71h7.1M1649.4 787.71h-7.1M1455.75 1170.4v-14.1M1455.75 637.1v14.1M938.4 782.15h14.1M1649.4 782.15h-14.1M1504.5 1170.4v-7.1M1504.5 637.1v7.1M938.4 745.57h7.1M1649.4 745.57h-7.1M1533.02 1170.4v-7.1M1533.02 637.1v7.1M938.4 724.18h7.1M1649.4 724.18h-7.1M1553.25 1170.4v-7.1M1553.25 637.1v7.1M938.4 709h7.1M1649.4 709h-7.1M1568.95 1170.4v-7.1M1568.95 637.1v7.1M938.4 697.23h7.1M1649.4 697.23h-7.1M1581.77 1170.4v-7.1M1581.77 637.1v7.1M938.4 687.6h7.1M1649.4 687.6h-7.1M1592.61 1170.4v-7.1M1592.61 637.1v7.1M938.4 679.47h7.1M1649.4 679.47h-7.1M1602.01 1170.4v-7.1M1602.01 637.1v7.1M938.4 672.42h7.1M1649.4 672.42h-7.1M1610.29 1170.4v-7.1M1610.29 637.1v7.1M938.4 666.21h7.1M1649.4 666.21h-7.1M1617.7 1170.4v-14.1M1617.7 637.1v14.1M938.4 660.65h14.1M1649.4 660.65h-14.1" stroke="#000" stroke-width="2.4" fill="none"/>
</g>
<rect x="938.4" y="637.1" width="711" height="533.3" fill="none" stroke="#3c3c3c" stroke-width="1.5"/>
<text x="969.9" y="1207.5" text-anchor="middle" font-size="24.1" fill="#4d4d4d" stroke="#4d4d4d" stroke-width="0.45" stroke-linejoin="round">10<tspan font-size="17.0" dy="-11.4">−4</tspan></text>
<text x="925" y="1158.65" text-anchor="end" font-size="24.1" fill="#4d4d4d" stroke="#4d4d4d" stroke-width="0.45" stroke-linejoin="round">10<tspan font-size="17.0" dy="-11.4">−4</tspan></text>
<text x="1131.85" y="1207.5" text-anchor="middle" font-size="24.1" fill="#4d4d4d" stroke="#4d4d4d" stroke-width="0.45" stroke-linejoin="round">10<tspan font-size="17.0" dy="-11.4">−3</tspan></text>
<text x="925" y="1037.15" text-anchor="end" font-size="24.1" fill="#4d4d4d" stroke="#4d4d4d" stroke-width="0.45" stroke-linejoin="round">10<tspan font-size="17.0" dy="-11.4">−3</tspan></text>
<text x="1293.8" y="1207.5" text-anchor="middle" font-size="24.1" fill="#4d4d4d" stroke="#4d4d4d" stroke-width="0.45" stroke-linejoin="round">10<tspan font-size="17.0" dy="-11.4">−2</tspan></text>
<text x="925" y="915.65" text-anchor="end" font-size="24.1" fill="#4d4d4d" stroke="#4d4d4d" stroke-width="0.45" stroke-linejoin="round">10<tspan font-size="17.0" dy="-11.4">−2</tspan></text>
<text x="1455.75" y="1207.5" text-anchor="middle" font-size="24.1" fill="#4d4d4d" stroke="#4d4d4d" stroke-width="0.45" stroke-linejoin="round">10<tspan font-size="17.0" dy="-11.4">−1</tspan></text>
<text x="925" y="794.15" text-anchor="end" font-size="24.1" fill="#4d4d4d" stroke="#4d4d4d" stroke-width="0.45" stroke-linejoin="round">10<tspan font-size="17.0" dy="-11.4">−1</tspan></text>
<text x="1617.7" y="1207.5" text-anchor="middle" font-size="24.1" fill="#4d4d4d" stroke="#4d4d4d" stroke-width="0.45" stroke-linejoin="round">10<tspan font-size="17.0" dy="-11.4">0</tspan></text>
<text x="925" y="672.65" text-anchor="end" font-size="24.1" fill="#4d4d4d" stroke="#4d4d4d" stroke-width="0.45" stroke-linejoin="round">10<tspan font-size="17.0" dy="-11.4">0</tspan></text>
<text x="1293.9" y="1242.8" text-anchor="middle" font-size="29.0" fill="#000" stroke="#000" stroke-width="0.5" stroke-linejoin="round">R<tspan font-size="20.0" dy="5.2">OD</tspan></text>
<g transform="translate(859.4 903.45) rotate(-90)" fill="#000">
<text x="0" y="0" text-anchor="middle" font-size="29.0" stroke="#000" stroke-width="0.5" stroke-linejoin="round">R<tspan font-size="20.0" dy="5.2">SP</tspan></text>
</g>
<rect x="1517.2" y="1017.9" width="41.4" height="123.2" fill="#fde725"/>
<rect x="1517.2" y="1024.06" width="41.4" height="117.04" fill="#dde318"/>
<rect x="1517.2" y="1030.22" width="41.4" height="110.88" fill="#bade28"/>
<rect x="1517.2" y="1036.38" width="41.4" height="104.72" fill="#95d840"/>
<rect x="1517.2" y="1042.54" width="41.4" height="98.56" fill="#75d054"/>
<rect x="1517.2" y="1048.7" width="41.4" height="92.4" fill="#56c667"/>
<rect x="1517.2" y="1054.86" width="41.4" height="86.24" fill="#3dbc74"/>
<rect x="1517.2" y="1061.02" width="41.4" height="80.08" fill="#29af7f"/>
<rect x="1517.2" y="1067.18" width="41.4" height="73.92" fill="#20a386"/>
<rect x="1517.2" y="1073.34" width="41.4" height="67.76" fill="#1f968b"/>
<rect x="1517.2" y="1079.5" width="41.4" height="61.6" fill="#238a8d"/>
<rect x="1517.2" y="1085.66" width="41.4" height="55.44" fill="#287d8e"/>
<rect x="1517.2" y="1091.82" width="41.4" height="49.28" fill="#2d718e"/>
<rect x="1517.2" y="1097.98" width="41.4" height="43.12" fill="#33638d"/>
<rect x="1517.2" y="1104.14" width="41.4" height="36.96" fill="#39558c"/>
<rect x="1517.2" y="1110.3" width="41.4" height="30.8" fill="#404688"/>
<rect x="1517.2" y="1116.46" width="41.4" height="24.64" fill="#453781"/>
<rect x="1517.2" y="1122.62" width="41.4" height="18.48" fill="#482576"/>
<rect x="1517.2" y="1128.78" width="41.4" height="12.32" fill="#481467"/>
<rect x="1517.2" y="1134.94" width="41.4" height="6.16" fill="#440154"/>
<path d="M1517.2 1036.3h8.2M1558.6 1036.3h-8.2M1517.2 1087.1h8.2M1558.6 1087.1h-8.2M1517.2 1138h8.2M1558.6 1138h-8.2" stroke="#fff" stroke-opacity="0.75" stroke-width="1.1" fill="none"/>
<text x="1574.1" y="1044.6" font-size="24.1" fill="#000" stroke="#000" stroke-width="0.5" stroke-linejoin="round">100</text>
<text x="1574.1" y="1095.4" font-size="24.1" fill="#000" stroke="#000" stroke-width="0.5" stroke-linejoin="round">10</text>
<text x="1574.1" y="1146.3" font-size="24.1" fill="#000" stroke="#000" stroke-width="0.5" stroke-linejoin="round">1</text>
<text x="1517.2" y="1000.6" font-size="29.0" fill="#000" stroke="#000" stroke-width="0.5" stroke-linejoin="round">count</text>
</g>
</svg>
</body>
</html>
